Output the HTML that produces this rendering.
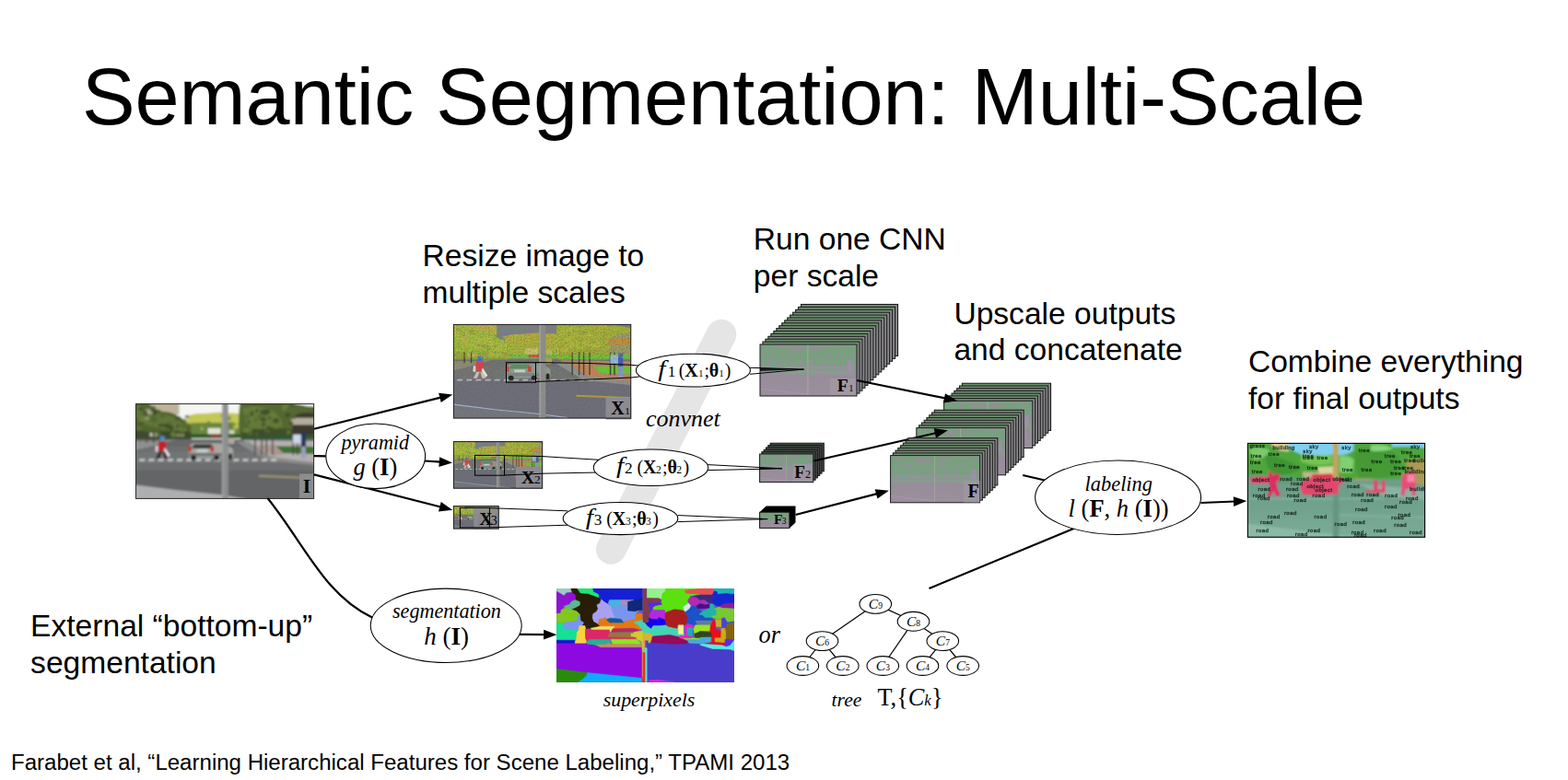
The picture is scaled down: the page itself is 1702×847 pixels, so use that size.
<!DOCTYPE html>
<html lang="en">
<head>
<meta charset="utf-8">
<title>Semantic Segmentation: Multi-Scale</title>
<style>
html,body{margin:0;padding:0;background:#fff;}
body{width:1702px;height:847px;position:relative;overflow:hidden;font-family:"Liberation Sans",sans-serif;color:#000;}
.t{position:absolute;white-space:nowrap;margin:0;font-weight:400;}
h1.t{font-size:86.45px;line-height:100px;left:88.9px;top:55px;}
.l{font-size:33.6px;line-height:40px;}
.f{font-size:24.05px;line-height:28px;left:12px;top:813.5px;}
svg{position:absolute;left:0;top:0;}
svg text{font-family:"Liberation Serif",serif;fill:#000;}
.i{font-style:italic;}
.b{font-weight:700;}
.lab{font-family:"Liberation Sans",sans-serif;font-size:6.1px;letter-spacing:.42px;fill:#0a1e12;stroke:#0a1e12;stroke-width:.32px;opacity:.85;}
</style>
</head>
<body>
<svg width="1702" height="847" viewBox="0 0 1702 847">
<defs>
<filter id="bl" x="-5%" y="-5%" width="110%" height="110%"><feGaussianBlur stdDeviation="0.9"/></filter>
<filter id="bl2" x="-5%" y="-5%" width="110%" height="110%"><feGaussianBlur stdDeviation="0.45"/></filter>
<filter id="nzc" x="0" y="0" width="100%" height="100%" color-interpolation-filters="sRGB"><feTurbulence type="fractalNoise" baseFrequency="0.6" numOctaves="2" seed="11"/><feColorMatrix type="matrix" values="1.5 0 0 0 -0.08  0 1.9 0 0 -0.22  0 0 0.9 0 -0.22  0 0 0 0 1"/><feComposite operator="in" in2="SourceGraphic"/></filter>
<filter id="nzg" x="0" y="0" width="100%" height="100%" color-interpolation-filters="sRGB"><feTurbulence type="fractalNoise" baseFrequency="0.5" numOctaves="2" seed="5"/><feColorMatrix type="matrix" values="0 2.4 0 0 -0.7  0 2.4 0 0 -0.7  0 2.4 0 0 -0.7  0 0 0 0 1"/><feComposite operator="in" in2="SourceGraphic"/></filter>
<filter id="nzf" x="0" y="0" width="100%" height="100%" color-interpolation-filters="sRGB"><feTurbulence type="fractalNoise" baseFrequency="0.5 0.9" numOctaves="2" seed="23"/><feColorMatrix type="matrix" values="2.2 0 0 0 -0.5  -1.6 0 0 0 1.4  2.2 0 0 0 -0.45  0 0 0 0 1"/><feComposite operator="in" in2="SourceGraphic"/></filter>
<clipPath id="c1"><rect x="0" y="0" width="193" height="102"/></clipPath>
<clipPath id="c2"><rect x="0" y="0" width="193" height="102"/></clipPath>
<clipPath id="c3"><rect x="0" y="0" width="193" height="102"/></clipPath>
<clipPath id="c4"><rect x="0" y="0" width="193" height="102"/></clipPath>
<linearGradient id="g5" x1="0" y1="0" x2="0" y2="1"><stop offset="0" stop-color="#6d936f"/><stop offset="0.028" stop-color="#6d936f"/><stop offset="0.046" stop-color="#8b898d"/><stop offset="1" stop-color="#8b898d"/></linearGradient>
<linearGradient id="g6" x1="0" y1="0" x2="0" y2="1"><stop offset="0" stop-color="#7f9a82"/><stop offset="0.1" stop-color="#73a077"/><stop offset="0.40" stop-color="#7a9d80"/><stop offset="0.54" stop-color="#8c9591"/><stop offset="0.62" stop-color="#988c9a"/><stop offset="1" stop-color="#9b8f9d"/></linearGradient>
<linearGradient id="g7" x1="0" y1="0" x2="0" y2="1"><stop offset="0" stop-color="#3e4a40"/><stop offset="0.042" stop-color="#3e4a40"/><stop offset="0.068" stop-color="#4a4a4c"/><stop offset="1" stop-color="#4a4a4c"/></linearGradient>
<linearGradient id="g8" x1="0" y1="0" x2="0" y2="1"><stop offset="0" stop-color="#7f9a82"/><stop offset="0.1" stop-color="#73a077"/><stop offset="0.40" stop-color="#7a9d80"/><stop offset="0.54" stop-color="#8c9591"/><stop offset="0.62" stop-color="#988c9a"/><stop offset="1" stop-color="#9b8f9d"/></linearGradient>
<linearGradient id="g9" x1="0" y1="0" x2="0" y2="1"><stop offset="0" stop-color="#7f9a82"/><stop offset="0.1" stop-color="#73a077"/><stop offset="0.40" stop-color="#7a9d80"/><stop offset="0.54" stop-color="#8c9591"/><stop offset="0.62" stop-color="#988c9a"/><stop offset="1" stop-color="#9b8f9d"/></linearGradient>
<linearGradient id="g10" x1="0" y1="0" x2="0" y2="1"><stop offset="0" stop-color="#6d936f"/><stop offset="0.029" stop-color="#6d936f"/><stop offset="0.047" stop-color="#8b898d"/><stop offset="1" stop-color="#8b898d"/></linearGradient>
<linearGradient id="g11" x1="0" y1="0" x2="0" y2="1"><stop offset="0" stop-color="#7f9a82"/><stop offset="0.1" stop-color="#73a077"/><stop offset="0.40" stop-color="#7a9d80"/><stop offset="0.54" stop-color="#8c9591"/><stop offset="0.62" stop-color="#988c9a"/><stop offset="1" stop-color="#9b8f9d"/></linearGradient>
<linearGradient id="g12" x1="0" y1="0" x2="0" y2="1"><stop offset="0" stop-color="#6d936f"/><stop offset="0.030" stop-color="#6d936f"/><stop offset="0.047" stop-color="#8b898d"/><stop offset="1" stop-color="#8b898d"/></linearGradient>
<linearGradient id="g13" x1="0" y1="0" x2="0" y2="1"><stop offset="0" stop-color="#7f9a82"/><stop offset="0.1" stop-color="#73a077"/><stop offset="0.40" stop-color="#7a9d80"/><stop offset="0.54" stop-color="#8c9591"/><stop offset="0.62" stop-color="#988c9a"/><stop offset="1" stop-color="#9b8f9d"/></linearGradient>
<linearGradient id="g14" x1="0" y1="0" x2="0" y2="1"><stop offset="0" stop-color="#6d936f"/><stop offset="0.029" stop-color="#6d936f"/><stop offset="0.046" stop-color="#8b898d"/><stop offset="1" stop-color="#8b898d"/></linearGradient>
<linearGradient id="g15" x1="0" y1="0" x2="0" y2="1"><stop offset="0" stop-color="#7f9a82"/><stop offset="0.1" stop-color="#73a077"/><stop offset="0.40" stop-color="#7a9d80"/><stop offset="0.54" stop-color="#8c9591"/><stop offset="0.62" stop-color="#988c9a"/><stop offset="1" stop-color="#9b8f9d"/></linearGradient>
<clipPath id="c16"><rect x="0" y="0" width="193" height="102"/></clipPath>
<linearGradient id="ogr" x1="0" y1="0" x2="0" y2="1"><stop offset="0.36" stop-color="#6c9d88"/><stop offset="0.6" stop-color="#6fa08b"/><stop offset="1" stop-color="#7cad98"/></linearGradient>
<clipPath id="c17"><rect x="0" y="0" width="193" height="102"/></clipPath>
</defs>
<line x1="783" y1="363.2" x2="663.2" y2="596.6" stroke="#e5e5e5" stroke-width="32.6" stroke-linecap="round"/>
<g transform="translate(147.5,438.6) scale(1.0005,1.0078)" clip-path="url(#c1)">
<g filter="url(#bl)">
<rect x="-4" y="-4" width="201" height="110" fill="#6c6e70"/>
<rect x="-4" y="36" width="201" height="10" fill="#66686a"/>
<rect x="-4" y="52" width="201" height="12" fill="#747678" opacity="0.8"/>
<rect x="-4" y="72" width="201" height="34" fill="#5f6163" opacity="0.7"/>
<rect x="-4" y="-4" width="201" height="42" fill="#f5f5f2"/>
<polygon points="10,-2 47,-2 47,11 40,13 28,8 10,7" fill="#bdb39b"/>
<rect x="148" y="3" width="50" height="34" fill="#3c382e"/>
<rect x="150" y="15" width="48" height="7.5" fill="#b4ad9c"/>
<path d="M56,13 Q66,9 76,11 Q88,8 100,10 Q108,9 116,12 L116,36 L56,37 Z" fill="#c3c755"/>
<path d="M56,21 Q80,19 116,22 L116,37 L56,37 Z" fill="#6a8540"/>
<rect x="78" y="26" width="14" height="7" fill="#e4e2dc"/>
<rect x="101" y="28" width="6" height="5" fill="#e4e2dc" opacity="0.8"/>
<rect x="58" y="32.5" width="60" height="4" fill="#2f5a2a"/>
<rect x="82" y="33" width="11" height="2.6" fill="#a83038"/>
<path d="M-3,-3 L12,-3 Q18,5 28,8 Q40,8 47,14 Q56,18 60,26 L60,38 L-3,38 Z" fill="#52652f"/>
<path d="M0,4 Q10,0 18,8 Q30,12 40,14 Q52,20 54,27 Q40,30 26,26 Q8,24 0,14 Z" fill="#6a7e3e" opacity="0.7"/>
<path d="M-3,29 L60,30 L60,38 L-3,38 Z" fill="#3a4628" opacity="0.85"/>
<rect x="10" y="6" width="9" height="5" fill="#bdb39b" opacity="0.8"/>
<rect x="6" y="14" width="8" height="3" fill="#bdb39b" opacity="0.6"/>
<rect x="15" y="31" width="8" height="4" fill="#e4e2dc" opacity="0.8"/>
<rect x="40" y="32" width="12" height="3" fill="#e4e2dc" opacity="0.7"/>
<path d="M113,-3 L150,-3 Q170,-1 193,4 L193,10 Q176,8 168,16 Q172,28 168,38 L114,38 Q110,20 113,-3 Z" fill="#536730"/>
<path d="M116,4 Q130,0 146,6 Q158,12 160,24 Q144,30 126,27 Q116,20 116,4 Z" fill="#6b813c" opacity="0.7"/>
<path d="M114,27 L170,27 L168,38 L114,38 Z" fill="#3c4a2a" opacity="0.8"/>
<rect x="118" y="33" width="78" height="5" fill="#2f5a2a"/>
<ellipse cx="18.8" cy="6.8" rx="3.3" ry="1.5" fill="#3a4628" opacity="0.75"/>
<ellipse cx="5.5" cy="20.6" rx="4.0" ry="1.8" fill="#52652f" opacity="0.75"/>
<ellipse cx="5.3" cy="15.6" rx="3.7" ry="1.6" fill="#52652f" opacity="0.75"/>
<ellipse cx="36.6" cy="20.7" rx="1.8" ry="2.5" fill="#52652f" opacity="0.75"/>
<ellipse cx="8.4" cy="5.8" rx="2.4" ry="2.9" fill="#52652f" opacity="0.75"/>
<ellipse cx="6.0" cy="20.3" rx="2.1" ry="1.6" fill="#3a4628" opacity="0.75"/>
<ellipse cx="3.6" cy="3.9" rx="2.1" ry="2.6" fill="#6a7e3e" opacity="0.75"/>
<ellipse cx="45.1" cy="16.9" rx="4.0" ry="2.1" fill="#52652f" opacity="0.75"/>
<ellipse cx="46.1" cy="24.4" rx="2.2" ry="2.4" fill="#3a4628" opacity="0.75"/>
<ellipse cx="28.7" cy="13.0" rx="2.8" ry="2.5" fill="#52652f" opacity="0.75"/>
<ellipse cx="6.8" cy="15.4" rx="3.6" ry="1.7" fill="#6a7e3e" opacity="0.75"/>
<ellipse cx="24.5" cy="32.8" rx="1.8" ry="2.4" fill="#6a7e3e" opacity="0.75"/>
<ellipse cx="19.7" cy="13.2" rx="2.9" ry="2.8" fill="#52652f" opacity="0.75"/>
<ellipse cx="48.7" cy="32.2" rx="2.8" ry="2.6" fill="#52652f" opacity="0.75"/>
<ellipse cx="33.5" cy="23.8" rx="2.8" ry="2.7" fill="#3a4628" opacity="0.75"/>
<ellipse cx="20.1" cy="32.1" rx="2.5" ry="2.5" fill="#6a7e3e" opacity="0.75"/>
<ellipse cx="3.4" cy="26.6" rx="1.9" ry="1.8" fill="#6a7e3e" opacity="0.75"/>
<ellipse cx="53.2" cy="17.9" rx="2.0" ry="2.1" fill="#6a7e3e" opacity="0.75"/>
<ellipse cx="51.2" cy="28.2" rx="3.8" ry="1.9" fill="#6a7e3e" opacity="0.75"/>
<ellipse cx="57.2" cy="23.8" rx="2.6" ry="1.8" fill="#52652f" opacity="0.75"/>
<ellipse cx="10.2" cy="9.4" rx="2.2" ry="2.3" fill="#3a4628" opacity="0.75"/>
<ellipse cx="10.6" cy="11.0" rx="2.0" ry="2.4" fill="#3a4628" opacity="0.75"/>
<ellipse cx="32.8" cy="32.5" rx="3.4" ry="2.3" fill="#3a4628" opacity="0.75"/>
<ellipse cx="38.0" cy="25.7" rx="2.8" ry="3.0" fill="#3a4628" opacity="0.75"/>
<ellipse cx="46.3" cy="14.6" rx="2.6" ry="1.6" fill="#3a4628" opacity="0.75"/>
<ellipse cx="23.2" cy="8.1" rx="4.2" ry="2.2" fill="#52652f" opacity="0.75"/>
<ellipse cx="19.7" cy="3.7" rx="1.6" ry="1.7" fill="#52652f" opacity="0.75"/>
<ellipse cx="55.0" cy="21.6" rx="1.8" ry="1.8" fill="#6a7e3e" opacity="0.75"/>
<ellipse cx="8.6" cy="10.1" rx="2.5" ry="2.1" fill="#52652f" opacity="0.75"/>
<ellipse cx="6.7" cy="17.6" rx="4.1" ry="2.3" fill="#6a7e3e" opacity="0.75"/>
<ellipse cx="5.0" cy="5.3" rx="2.5" ry="1.9" fill="#3a4628" opacity="0.75"/>
<ellipse cx="9.4" cy="2.7" rx="4.1" ry="2.4" fill="#52652f" opacity="0.75"/>
<ellipse cx="40.0" cy="31.3" rx="3.6" ry="1.9" fill="#3a4628" opacity="0.75"/>
<ellipse cx="50.1" cy="24.3" rx="2.3" ry="2.1" fill="#52652f" opacity="0.75"/>
<ellipse cx="20.6" cy="9.1" rx="3.0" ry="2.3" fill="#3a4628" opacity="0.75"/>
<ellipse cx="12.9" cy="28.0" rx="4.2" ry="2.9" fill="#52652f" opacity="0.75"/>
<ellipse cx="47.5" cy="25.7" rx="2.2" ry="2.3" fill="#6a7e3e" opacity="0.75"/>
<ellipse cx="42.4" cy="33.7" rx="3.7" ry="2.3" fill="#52652f" opacity="0.75"/>
<ellipse cx="40.2" cy="32.6" rx="2.8" ry="3.1" fill="#6a7e3e" opacity="0.75"/>
<ellipse cx="55.4" cy="13.7" rx="2.2" ry="1.8" fill="#52652f" opacity="0.75"/>
<ellipse cx="19.6" cy="17.4" rx="4.2" ry="2.5" fill="#52652f" opacity="0.75"/>
<ellipse cx="27.8" cy="22.9" rx="3.7" ry="1.6" fill="#3a4628" opacity="0.75"/>
<ellipse cx="120.7" cy="13.2" rx="3.4" ry="1.8" fill="#536730" opacity="0.75"/>
<ellipse cx="138.3" cy="21.6" rx="1.8" ry="3.1" fill="#3c4a2a" opacity="0.75"/>
<ellipse cx="136.2" cy="13.6" rx="4.1" ry="2.7" fill="#536730" opacity="0.75"/>
<ellipse cx="169.6" cy="0.9" rx="3.1" ry="2.2" fill="#3c4a2a" opacity="0.75"/>
<ellipse cx="122.2" cy="28.1" rx="4.1" ry="2.6" fill="#6b813c" opacity="0.75"/>
<ellipse cx="122.7" cy="18.6" rx="1.7" ry="2.8" fill="#3c4a2a" opacity="0.75"/>
<ellipse cx="150.4" cy="17.9" rx="4.0" ry="2.2" fill="#536730" opacity="0.75"/>
<ellipse cx="160.3" cy="7.2" rx="2.3" ry="1.9" fill="#536730" opacity="0.75"/>
<ellipse cx="156.8" cy="11.1" rx="3.0" ry="2.9" fill="#536730" opacity="0.75"/>
<ellipse cx="165.0" cy="12.0" rx="2.8" ry="2.5" fill="#3c4a2a" opacity="0.75"/>
<ellipse cx="137.6" cy="31.2" rx="2.9" ry="2.4" fill="#3c4a2a" opacity="0.75"/>
<ellipse cx="142.6" cy="29.7" rx="3.6" ry="2.5" fill="#536730" opacity="0.75"/>
<ellipse cx="123.7" cy="16.1" rx="3.5" ry="2.4" fill="#6b813c" opacity="0.75"/>
<ellipse cx="152.2" cy="18.0" rx="2.9" ry="2.8" fill="#3c4a2a" opacity="0.75"/>
<ellipse cx="117.2" cy="6.5" rx="1.7" ry="1.6" fill="#6b813c" opacity="0.75"/>
<ellipse cx="145.5" cy="25.8" rx="4.0" ry="2.2" fill="#3c4a2a" opacity="0.75"/>
<ellipse cx="168.5" cy="20.6" rx="2.1" ry="1.9" fill="#3c4a2a" opacity="0.75"/>
<ellipse cx="143.9" cy="16.3" rx="4.0" ry="2.7" fill="#6b813c" opacity="0.75"/>
<ellipse cx="165.7" cy="30.4" rx="2.1" ry="2.2" fill="#6b813c" opacity="0.75"/>
<ellipse cx="120.8" cy="15.0" rx="1.8" ry="1.8" fill="#536730" opacity="0.75"/>
<ellipse cx="125.9" cy="10.3" rx="1.9" ry="2.8" fill="#3c4a2a" opacity="0.75"/>
<ellipse cx="150.0" cy="12.5" rx="2.3" ry="1.6" fill="#6b813c" opacity="0.75"/>
<ellipse cx="126.3" cy="32.4" rx="2.6" ry="2.3" fill="#3c4a2a" opacity="0.75"/>
<ellipse cx="160.6" cy="5.5" rx="2.7" ry="2.3" fill="#6b813c" opacity="0.75"/>
<ellipse cx="137.6" cy="12.1" rx="1.8" ry="2.1" fill="#6b813c" opacity="0.75"/>
<ellipse cx="145.0" cy="15.0" rx="1.6" ry="2.0" fill="#3c4a2a" opacity="0.75"/>
<ellipse cx="130.5" cy="32.7" rx="1.9" ry="3.1" fill="#536730" opacity="0.75"/>
<ellipse cx="168.4" cy="3.6" rx="2.3" ry="1.5" fill="#536730" opacity="0.75"/>
<ellipse cx="129.1" cy="4.4" rx="2.7" ry="3.0" fill="#6b813c" opacity="0.75"/>
<ellipse cx="136.7" cy="18.2" rx="2.9" ry="2.3" fill="#6b813c" opacity="0.75"/>
<ellipse cx="119.0" cy="2.0" rx="3.4" ry="2.2" fill="#536730" opacity="0.75"/>
<ellipse cx="129.1" cy="0.6" rx="1.8" ry="1.9" fill="#3c4a2a" opacity="0.75"/>
<ellipse cx="161.9" cy="2.3" rx="3.8" ry="2.2" fill="#6b813c" opacity="0.75"/>
<ellipse cx="169.7" cy="14.2" rx="4.0" ry="2.5" fill="#536730" opacity="0.75"/>
<ellipse cx="143.5" cy="8.1" rx="1.9" ry="1.7" fill="#536730" opacity="0.75"/>
<ellipse cx="124.1" cy="31.7" rx="3.2" ry="2.4" fill="#536730" opacity="0.75"/>
<ellipse cx="130.2" cy="17.0" rx="2.1" ry="2.0" fill="#536730" opacity="0.75"/>
<ellipse cx="169.7" cy="1.3" rx="1.6" ry="2.3" fill="#536730" opacity="0.75"/>
<ellipse cx="142.8" cy="8.4" rx="2.8" ry="2.6" fill="#3c4a2a" opacity="0.75"/>
<ellipse cx="138.2" cy="16.8" rx="3.8" ry="2.1" fill="#3c4a2a" opacity="0.75"/>
<ellipse cx="131.2" cy="7.3" rx="2.2" ry="1.8" fill="#3c4a2a" opacity="0.75"/>
<ellipse cx="154.8" cy="4.8" rx="4.2" ry="3.2" fill="#536730" opacity="0.75"/>
<ellipse cx="114.8" cy="21.3" rx="3.9" ry="2.2" fill="#536730" opacity="0.75"/>
<ellipse cx="118.7" cy="28.6" rx="3.9" ry="2.6" fill="#6b813c" opacity="0.75"/>
<ellipse cx="147.5" cy="23.6" rx="1.7" ry="1.7" fill="#6b813c" opacity="0.75"/>
<ellipse cx="139.0" cy="9.0" rx="4.1" ry="3.2" fill="#3c4a2a" opacity="0.75"/>
<ellipse cx="76.1" cy="11.7" rx="3.9" ry="1.8" fill="#c3c755" opacity="0.75"/>
<ellipse cx="58.1" cy="18.3" rx="2.8" ry="2.3" fill="#c3c755" opacity="0.75"/>
<ellipse cx="71.9" cy="25.7" rx="1.8" ry="2.9" fill="#c3c755" opacity="0.75"/>
<ellipse cx="80.4" cy="11.8" rx="1.7" ry="1.9" fill="#c3c755" opacity="0.75"/>
<ellipse cx="62.7" cy="29.2" rx="3.8" ry="1.7" fill="#6a8540" opacity="0.75"/>
<ellipse cx="101.9" cy="22.3" rx="3.6" ry="2.7" fill="#6a8540" opacity="0.75"/>
<ellipse cx="66.4" cy="24.8" rx="3.3" ry="1.5" fill="#6a8540" opacity="0.75"/>
<ellipse cx="107.9" cy="22.9" rx="3.5" ry="2.9" fill="#c3c755" opacity="0.75"/>
<ellipse cx="109.0" cy="25.3" rx="3.1" ry="2.9" fill="#c3c755" opacity="0.75"/>
<ellipse cx="104.3" cy="22.1" rx="3.9" ry="2.6" fill="#6a8540" opacity="0.75"/>
<ellipse cx="94.0" cy="12.6" rx="1.7" ry="2.5" fill="#c3c755" opacity="0.75"/>
<ellipse cx="79.1" cy="19.6" rx="1.7" ry="1.4" fill="#6a8540" opacity="0.75"/>
<ellipse cx="96.1" cy="20.3" rx="1.6" ry="2.8" fill="#6a8540" opacity="0.75"/>
<ellipse cx="110.2" cy="28.1" rx="1.8" ry="2.3" fill="#6a8540" opacity="0.75"/>
<ellipse cx="99.3" cy="15.8" rx="1.8" ry="1.9" fill="#6a8540" opacity="0.75"/>
<ellipse cx="100.4" cy="15.4" rx="3.3" ry="2.2" fill="#6a8540" opacity="0.75"/>
<ellipse cx="62.3" cy="28.3" rx="2.3" ry="1.5" fill="#6a8540" opacity="0.75"/>
<ellipse cx="94.0" cy="12.5" rx="2.0" ry="1.9" fill="#6a8540" opacity="0.75"/>
<ellipse cx="96.8" cy="22.8" rx="1.9" ry="2.3" fill="#6a8540" opacity="0.75"/>
<ellipse cx="73.1" cy="23.8" rx="3.4" ry="2.6" fill="#6a8540" opacity="0.75"/>
<ellipse cx="97.7" cy="16.4" rx="2.8" ry="2.8" fill="#6a8540" opacity="0.75"/>
<ellipse cx="69.2" cy="29.6" rx="4.0" ry="1.4" fill="#6a8540" opacity="0.75"/>
<polygon points="116,39 197,40 197,64 150,59" fill="#b2b0b0"/>
<polygon points="124,45 150,44 170,52 150,56" fill="#a89088" opacity="0.8"/>
<polygon points="152,45.5 197,46 197,54 160,53" fill="#3f7034"/>
<polygon points="108,40.5 122,40.5 146,57 197,63.5 197,66.5 142,60.5" fill="#8c8c8a"/>
<polygon points="-4,40 22,40 44,38 16,46 -4,51" fill="#8e9090"/>
<rect x="128.5" y="30" width="1.4" height="25" fill="#4a443a"/>
<rect x="136" y="30" width="1.4" height="25" fill="#4a443a"/>
<rect x="141" y="30" width="1.4" height="25" fill="#4a443a"/>
<rect x="147.5" y="30" width="1.4" height="25" fill="#4a443a"/>
<rect x="170" y="30" width="1.4" height="25" fill="#4a443a"/>
<rect x="174.5" y="30" width="1.4" height="25" fill="#4a443a"/>
<rect x="11" y="30" width="1.4" height="12" fill="#4a443a"/>
<rect x="18.5" y="30" width="1.4" height="12" fill="#4a443a"/>
<rect x="170.5" y="33" width="9" height="9.5" fill="#ccd6e8"/>
<rect x="179.2" y="31" width="5.3" height="15" fill="#2c3560"/>
<rect x="179.6" y="46" width="4.6" height="13" fill="#9aa0b8"/>
<polygon points="3.0,61.4 9.2,61.4 10.2,59.4 4.5,59.4" fill="#dcdcdc"/>
<polygon points="13.2,61.4 19.4,61.4 20.4,59.4 14.7,59.4" fill="#dcdcdc"/>
<polygon points="23.4,61.4 29.6,61.4 30.6,59.4 24.9,59.4" fill="#dcdcdc"/>
<polygon points="33.6,61.4 39.8,61.4 40.8,59.4 35.1,59.4" fill="#dcdcdc"/>
<polygon points="43.8,61.4 50.0,61.4 51.0,59.4 45.3,59.4" fill="#dcdcdc"/>
<polygon points="54.0,61.4 60.2,61.4 61.2,59.4 55.5,59.4" fill="#dcdcdc"/>
<polygon points="64.2,61.4 70.4,61.4 71.4,59.4 65.7,59.4" fill="#dcdcdc"/>
<polygon points="74.4,61.4 80.6,61.4 81.6,59.4 75.9,59.4" fill="#dcdcdc"/>
<polygon points="84.6,61.4 90.8,61.4 91.8,59.4 86.1,59.4" fill="#dcdcdc"/>
<polygon points="105.0,61.4 111.2,61.4 112.2,59.4 106.5,59.4" fill="#dcdcdc"/>
<polygon points="115.2,61.4 121.4,61.4 122.4,59.4 116.7,59.4" fill="#dcdcdc"/>
<polygon points="125.4,61.4 131.6,61.4 132.6,59.4 126.9,59.4" fill="#dcdcdc"/>
<polygon points="135.6,61.4 141.8,61.4 142.8,59.4 137.1,59.4" fill="#dcdcdc"/>
<polygon points="145.8,61.4 152.0,61.4 153.0,59.4 147.3,59.4" fill="#dcdcdc"/>
<polygon points="133.5,76.6 197,79.2 197,81 133.5,78.6" fill="#a39c72"/>
<polygon points="-3,87 45,93 93,97.8 124,103 -3,104" fill="#adafb1"/>
<rect x="100" y="36.5" width="7" height="6.5" rx="1.5" fill="#b0a89c"/>
<path d="M57,50 Q57.5,43.5 62,42.4 L90,42.4 Q100,43.5 105.5,49 L105.5,58 L58,58.6 Z" fill="#a6a8a2"/>
<polygon points="60.5,48 63,43.6 82,43.6 84,48" fill="#333a34"/>
<rect x="58" y="53" width="38" height="3.4" fill="#6e7472"/>
<rect x="56.8" y="45.5" width="3.6" height="6" fill="#c83232"/>
<rect x="81" y="45.5" width="3.6" height="6" fill="#c83232"/>
<rect x="66" y="49" width="12" height="3" fill="#c8ccd0"/>
<ellipse cx="62.5" cy="58" rx="3" ry="2.6" fill="#1c1c1c"/>
<ellipse cx="87.5" cy="58" rx="3" ry="2.6" fill="#1c1c1c"/>
<ellipse cx="102.5" cy="56.5" rx="2" ry="3.2" fill="#1c1c1c"/>
<rect x="26.3" y="34.6" width="5" height="5" rx="1" fill="#3f8fd8"/>
<path d="M24.5,40 L32.5,40 L33.5,51.5 L24,51.5 Z" fill="#c4202c"/>
<polygon points="25,51.5 28.5,51.5 25.5,58.6 21.5,58.6" fill="#2a2a30"/>
<polygon points="29,51.5 32.5,51.5 35,58.6 31,58.6" fill="#2a2a30"/>
<polygon points="31.5,47 37,55.5 35,57.5 30.5,50" fill="#e8e8ec"/>
<polygon points="21.5,45 24,45 24,52 21,51" fill="#d8d8dc"/>
<rect x="93.4" y="-3" width="6.8" height="108" fill="#8d8f8f"/>
<rect x="93.4" y="-3" width="1.5" height="108" fill="#b0b2b2" opacity="0.6"/>
</g>
</g>
<rect x="325" y="514.5" width="16" height="26.5" fill="#8d8d8d"/>
<rect x="147.5" y="438.6" width="193.1" height="102.8" fill="none" stroke="#2a2a2a" stroke-width="1.0"/>
<text x="328.7" y="535" font-size="21.5" class="b" text-anchor="start">I</text>
<g transform="translate(492.4,352.4) scale(0.9966,0.9971)" clip-path="url(#c2)">
<g filter="url(#bl2)">
<rect x="-4" y="-4" width="201" height="110" fill="#6c6d76"/>
<rect x="-4" y="36" width="201" height="10" fill="#696a73"/>
<rect x="-4" y="-4" width="201" height="42" fill="#7b7b7e"/>
<rect x="48" y="6.5" width="30" height="1.2" fill="#4a9a7a" opacity="0.8"/>
<rect x="52" y="9.5" width="36" height="1.2" fill="#6a7ab0" opacity="0.8"/>
<polygon points="10,-2 47,-2 47,11 40,13 28,8 10,7" fill="#b0a050"/>
<rect x="148" y="3" width="50" height="34" fill="#8c8a72"/>
<rect x="150" y="15" width="48" height="7.5" fill="#b87c42"/>
<path d="M56,13 Q66,9 76,11 Q88,8 100,10 Q108,9 116,12 L116,36 L56,37 Z" fill="#a9a23e"/>
<path d="M56,21 Q80,19 116,22 L116,37 L56,37 Z" fill="#9aa640"/>
<rect x="78" y="26" width="14" height="7" fill="#c8b478"/>
<rect x="101" y="28" width="6" height="5" fill="#c8b478" opacity="0.8"/>
<rect x="58" y="32.5" width="60" height="4" fill="#58b840"/>
<rect x="82" y="33" width="11" height="2.6" fill="#c83048"/>
<path d="M-3,-3 L12,-3 Q18,5 28,8 Q40,8 47,14 Q56,18 60,26 L60,38 L-3,38 Z" fill="#8fb03f"/>
<path d="M0,4 Q10,0 18,8 Q30,12 40,14 Q52,20 54,27 Q40,30 26,26 Q8,24 0,14 Z" fill="#a9b246" opacity="0.7"/>
<path d="M-3,29 L60,30 L60,38 L-3,38 Z" fill="#8a9440" opacity="0.85"/>
<rect x="10" y="6" width="9" height="5" fill="#b0a050" opacity="0.8"/>
<rect x="6" y="14" width="8" height="3" fill="#b0a050" opacity="0.6"/>
<rect x="15" y="31" width="8" height="4" fill="#c8b478" opacity="0.8"/>
<rect x="40" y="32" width="12" height="3" fill="#c8b478" opacity="0.7"/>
<path d="M113,-3 L150,-3 Q170,-1 193,4 L193,10 Q176,8 168,16 Q172,28 168,38 L114,38 Q110,20 113,-3 Z" fill="#98a43a"/>
<path d="M116,4 Q130,0 146,6 Q158,12 160,24 Q144,30 126,27 Q116,20 116,4 Z" fill="#a6ac40" opacity="0.7"/>
<path d="M114,27 L170,27 L168,38 L114,38 Z" fill="#8e963c" opacity="0.8"/>
<rect x="118" y="33" width="78" height="5" fill="#58b840"/>
<ellipse cx="18.8" cy="6.8" rx="3.3" ry="1.5" fill="#8a9440" opacity="0.75"/>
<ellipse cx="5.5" cy="20.6" rx="4.0" ry="1.8" fill="#8fb03f" opacity="0.75"/>
<ellipse cx="5.3" cy="15.6" rx="3.7" ry="1.6" fill="#8fb03f" opacity="0.75"/>
<ellipse cx="36.6" cy="20.7" rx="1.8" ry="2.5" fill="#8fb03f" opacity="0.75"/>
<ellipse cx="8.4" cy="5.8" rx="2.4" ry="2.9" fill="#8fb03f" opacity="0.75"/>
<ellipse cx="6.0" cy="20.3" rx="2.1" ry="1.6" fill="#8a9440" opacity="0.75"/>
<ellipse cx="3.6" cy="3.9" rx="2.1" ry="2.6" fill="#a9b246" opacity="0.75"/>
<ellipse cx="45.1" cy="16.9" rx="4.0" ry="2.1" fill="#8fb03f" opacity="0.75"/>
<ellipse cx="46.1" cy="24.4" rx="2.2" ry="2.4" fill="#8a9440" opacity="0.75"/>
<ellipse cx="28.7" cy="13.0" rx="2.8" ry="2.5" fill="#8fb03f" opacity="0.75"/>
<ellipse cx="6.8" cy="15.4" rx="3.6" ry="1.7" fill="#a9b246" opacity="0.75"/>
<ellipse cx="24.5" cy="32.8" rx="1.8" ry="2.4" fill="#a9b246" opacity="0.75"/>
<ellipse cx="19.7" cy="13.2" rx="2.9" ry="2.8" fill="#8fb03f" opacity="0.75"/>
<ellipse cx="48.7" cy="32.2" rx="2.8" ry="2.6" fill="#8fb03f" opacity="0.75"/>
<ellipse cx="33.5" cy="23.8" rx="2.8" ry="2.7" fill="#8a9440" opacity="0.75"/>
<ellipse cx="20.1" cy="32.1" rx="2.5" ry="2.5" fill="#a9b246" opacity="0.75"/>
<ellipse cx="3.4" cy="26.6" rx="1.9" ry="1.8" fill="#a9b246" opacity="0.75"/>
<ellipse cx="53.2" cy="17.9" rx="2.0" ry="2.1" fill="#a9b246" opacity="0.75"/>
<ellipse cx="51.2" cy="28.2" rx="3.8" ry="1.9" fill="#a9b246" opacity="0.75"/>
<ellipse cx="57.2" cy="23.8" rx="2.6" ry="1.8" fill="#8fb03f" opacity="0.75"/>
<ellipse cx="10.2" cy="9.4" rx="2.2" ry="2.3" fill="#8a9440" opacity="0.75"/>
<ellipse cx="10.6" cy="11.0" rx="2.0" ry="2.4" fill="#8a9440" opacity="0.75"/>
<ellipse cx="32.8" cy="32.5" rx="3.4" ry="2.3" fill="#8a9440" opacity="0.75"/>
<ellipse cx="38.0" cy="25.7" rx="2.8" ry="3.0" fill="#8a9440" opacity="0.75"/>
<ellipse cx="46.3" cy="14.6" rx="2.6" ry="1.6" fill="#8a9440" opacity="0.75"/>
<ellipse cx="23.2" cy="8.1" rx="4.2" ry="2.2" fill="#8fb03f" opacity="0.75"/>
<ellipse cx="19.7" cy="3.7" rx="1.6" ry="1.7" fill="#8fb03f" opacity="0.75"/>
<ellipse cx="55.0" cy="21.6" rx="1.8" ry="1.8" fill="#a9b246" opacity="0.75"/>
<ellipse cx="8.6" cy="10.1" rx="2.5" ry="2.1" fill="#8fb03f" opacity="0.75"/>
<ellipse cx="6.7" cy="17.6" rx="4.1" ry="2.3" fill="#a9b246" opacity="0.75"/>
<ellipse cx="5.0" cy="5.3" rx="2.5" ry="1.9" fill="#8a9440" opacity="0.75"/>
<ellipse cx="9.4" cy="2.7" rx="4.1" ry="2.4" fill="#8fb03f" opacity="0.75"/>
<ellipse cx="40.0" cy="31.3" rx="3.6" ry="1.9" fill="#8a9440" opacity="0.75"/>
<ellipse cx="50.1" cy="24.3" rx="2.3" ry="2.1" fill="#8fb03f" opacity="0.75"/>
<ellipse cx="20.6" cy="9.1" rx="3.0" ry="2.3" fill="#8a9440" opacity="0.75"/>
<ellipse cx="12.9" cy="28.0" rx="4.2" ry="2.9" fill="#8fb03f" opacity="0.75"/>
<ellipse cx="47.5" cy="25.7" rx="2.2" ry="2.3" fill="#a9b246" opacity="0.75"/>
<ellipse cx="42.4" cy="33.7" rx="3.7" ry="2.3" fill="#8fb03f" opacity="0.75"/>
<ellipse cx="40.2" cy="32.6" rx="2.8" ry="3.1" fill="#a9b246" opacity="0.75"/>
<ellipse cx="55.4" cy="13.7" rx="2.2" ry="1.8" fill="#8fb03f" opacity="0.75"/>
<ellipse cx="19.6" cy="17.4" rx="4.2" ry="2.5" fill="#8fb03f" opacity="0.75"/>
<ellipse cx="27.8" cy="22.9" rx="3.7" ry="1.6" fill="#8a9440" opacity="0.75"/>
<ellipse cx="120.7" cy="13.2" rx="3.4" ry="1.8" fill="#98a43a" opacity="0.75"/>
<ellipse cx="138.3" cy="21.6" rx="1.8" ry="3.1" fill="#8e963c" opacity="0.75"/>
<ellipse cx="136.2" cy="13.6" rx="4.1" ry="2.7" fill="#98a43a" opacity="0.75"/>
<ellipse cx="169.6" cy="0.9" rx="3.1" ry="2.2" fill="#8e963c" opacity="0.75"/>
<ellipse cx="122.2" cy="28.1" rx="4.1" ry="2.6" fill="#a6ac40" opacity="0.75"/>
<ellipse cx="122.7" cy="18.6" rx="1.7" ry="2.8" fill="#8e963c" opacity="0.75"/>
<ellipse cx="150.4" cy="17.9" rx="4.0" ry="2.2" fill="#98a43a" opacity="0.75"/>
<ellipse cx="160.3" cy="7.2" rx="2.3" ry="1.9" fill="#98a43a" opacity="0.75"/>
<ellipse cx="156.8" cy="11.1" rx="3.0" ry="2.9" fill="#98a43a" opacity="0.75"/>
<ellipse cx="165.0" cy="12.0" rx="2.8" ry="2.5" fill="#8e963c" opacity="0.75"/>
<ellipse cx="137.6" cy="31.2" rx="2.9" ry="2.4" fill="#8e963c" opacity="0.75"/>
<ellipse cx="142.6" cy="29.7" rx="3.6" ry="2.5" fill="#98a43a" opacity="0.75"/>
<ellipse cx="123.7" cy="16.1" rx="3.5" ry="2.4" fill="#a6ac40" opacity="0.75"/>
<ellipse cx="152.2" cy="18.0" rx="2.9" ry="2.8" fill="#8e963c" opacity="0.75"/>
<ellipse cx="117.2" cy="6.5" rx="1.7" ry="1.6" fill="#a6ac40" opacity="0.75"/>
<ellipse cx="145.5" cy="25.8" rx="4.0" ry="2.2" fill="#8e963c" opacity="0.75"/>
<ellipse cx="168.5" cy="20.6" rx="2.1" ry="1.9" fill="#8e963c" opacity="0.75"/>
<ellipse cx="143.9" cy="16.3" rx="4.0" ry="2.7" fill="#a6ac40" opacity="0.75"/>
<ellipse cx="165.7" cy="30.4" rx="2.1" ry="2.2" fill="#a6ac40" opacity="0.75"/>
<ellipse cx="120.8" cy="15.0" rx="1.8" ry="1.8" fill="#98a43a" opacity="0.75"/>
<ellipse cx="125.9" cy="10.3" rx="1.9" ry="2.8" fill="#8e963c" opacity="0.75"/>
<ellipse cx="150.0" cy="12.5" rx="2.3" ry="1.6" fill="#a6ac40" opacity="0.75"/>
<ellipse cx="126.3" cy="32.4" rx="2.6" ry="2.3" fill="#8e963c" opacity="0.75"/>
<ellipse cx="160.6" cy="5.5" rx="2.7" ry="2.3" fill="#a6ac40" opacity="0.75"/>
<ellipse cx="137.6" cy="12.1" rx="1.8" ry="2.1" fill="#a6ac40" opacity="0.75"/>
<ellipse cx="145.0" cy="15.0" rx="1.6" ry="2.0" fill="#8e963c" opacity="0.75"/>
<ellipse cx="130.5" cy="32.7" rx="1.9" ry="3.1" fill="#98a43a" opacity="0.75"/>
<ellipse cx="168.4" cy="3.6" rx="2.3" ry="1.5" fill="#98a43a" opacity="0.75"/>
<ellipse cx="129.1" cy="4.4" rx="2.7" ry="3.0" fill="#a6ac40" opacity="0.75"/>
<ellipse cx="136.7" cy="18.2" rx="2.9" ry="2.3" fill="#a6ac40" opacity="0.75"/>
<ellipse cx="119.0" cy="2.0" rx="3.4" ry="2.2" fill="#98a43a" opacity="0.75"/>
<ellipse cx="129.1" cy="0.6" rx="1.8" ry="1.9" fill="#8e963c" opacity="0.75"/>
<ellipse cx="161.9" cy="2.3" rx="3.8" ry="2.2" fill="#a6ac40" opacity="0.75"/>
<ellipse cx="169.7" cy="14.2" rx="4.0" ry="2.5" fill="#98a43a" opacity="0.75"/>
<ellipse cx="143.5" cy="8.1" rx="1.9" ry="1.7" fill="#98a43a" opacity="0.75"/>
<ellipse cx="124.1" cy="31.7" rx="3.2" ry="2.4" fill="#98a43a" opacity="0.75"/>
<ellipse cx="130.2" cy="17.0" rx="2.1" ry="2.0" fill="#98a43a" opacity="0.75"/>
<ellipse cx="169.7" cy="1.3" rx="1.6" ry="2.3" fill="#98a43a" opacity="0.75"/>
<ellipse cx="142.8" cy="8.4" rx="2.8" ry="2.6" fill="#8e963c" opacity="0.75"/>
<ellipse cx="138.2" cy="16.8" rx="3.8" ry="2.1" fill="#8e963c" opacity="0.75"/>
<ellipse cx="131.2" cy="7.3" rx="2.2" ry="1.8" fill="#8e963c" opacity="0.75"/>
<ellipse cx="154.8" cy="4.8" rx="4.2" ry="3.2" fill="#98a43a" opacity="0.75"/>
<ellipse cx="114.8" cy="21.3" rx="3.9" ry="2.2" fill="#98a43a" opacity="0.75"/>
<ellipse cx="118.7" cy="28.6" rx="3.9" ry="2.6" fill="#a6ac40" opacity="0.75"/>
<ellipse cx="147.5" cy="23.6" rx="1.7" ry="1.7" fill="#a6ac40" opacity="0.75"/>
<ellipse cx="139.0" cy="9.0" rx="4.1" ry="3.2" fill="#8e963c" opacity="0.75"/>
<ellipse cx="76.1" cy="11.7" rx="3.9" ry="1.8" fill="#a9a23e" opacity="0.75"/>
<ellipse cx="58.1" cy="18.3" rx="2.8" ry="2.3" fill="#a9a23e" opacity="0.75"/>
<ellipse cx="71.9" cy="25.7" rx="1.8" ry="2.9" fill="#a9a23e" opacity="0.75"/>
<ellipse cx="80.4" cy="11.8" rx="1.7" ry="1.9" fill="#a9a23e" opacity="0.75"/>
<ellipse cx="62.7" cy="29.2" rx="3.8" ry="1.7" fill="#9aa640" opacity="0.75"/>
<ellipse cx="101.9" cy="22.3" rx="3.6" ry="2.7" fill="#9aa640" opacity="0.75"/>
<ellipse cx="66.4" cy="24.8" rx="3.3" ry="1.5" fill="#9aa640" opacity="0.75"/>
<ellipse cx="107.9" cy="22.9" rx="3.5" ry="2.9" fill="#a9a23e" opacity="0.75"/>
<ellipse cx="109.0" cy="25.3" rx="3.1" ry="2.9" fill="#a9a23e" opacity="0.75"/>
<ellipse cx="104.3" cy="22.1" rx="3.9" ry="2.6" fill="#9aa640" opacity="0.75"/>
<ellipse cx="94.0" cy="12.6" rx="1.7" ry="2.5" fill="#a9a23e" opacity="0.75"/>
<ellipse cx="79.1" cy="19.6" rx="1.7" ry="1.4" fill="#9aa640" opacity="0.75"/>
<ellipse cx="96.1" cy="20.3" rx="1.6" ry="2.8" fill="#9aa640" opacity="0.75"/>
<ellipse cx="110.2" cy="28.1" rx="1.8" ry="2.3" fill="#9aa640" opacity="0.75"/>
<ellipse cx="99.3" cy="15.8" rx="1.8" ry="1.9" fill="#9aa640" opacity="0.75"/>
<ellipse cx="100.4" cy="15.4" rx="3.3" ry="2.2" fill="#9aa640" opacity="0.75"/>
<ellipse cx="62.3" cy="28.3" rx="2.3" ry="1.5" fill="#9aa640" opacity="0.75"/>
<ellipse cx="94.0" cy="12.5" rx="2.0" ry="1.9" fill="#9aa640" opacity="0.75"/>
<ellipse cx="96.8" cy="22.8" rx="1.9" ry="2.3" fill="#9aa640" opacity="0.75"/>
<ellipse cx="73.1" cy="23.8" rx="3.4" ry="2.6" fill="#9aa640" opacity="0.75"/>
<ellipse cx="97.7" cy="16.4" rx="2.8" ry="2.8" fill="#9aa640" opacity="0.75"/>
<ellipse cx="69.2" cy="29.6" rx="4.0" ry="1.4" fill="#9aa640" opacity="0.75"/>
<polygon points="116,39 197,40 197,64 150,59" fill="#b0806a"/>
<polygon points="124,45 150,44 170,52 150,56" fill="#c07c58" opacity="0.8"/>
<polygon points="152,45.5 197,46 197,54 160,53" fill="#62c232"/>
<polygon points="108,40.5 122,40.5 146,57 197,63.5 197,66.5 142,60.5" fill="#8a8a92"/>
<polygon points="-4,40 22,40 44,38 16,46 -4,51" fill="#8a8478"/>
<rect x="128.5" y="30" width="1.4" height="25" fill="#3a3a34"/>
<rect x="136" y="30" width="1.4" height="25" fill="#3a3a34"/>
<rect x="141" y="30" width="1.4" height="25" fill="#3a3a34"/>
<rect x="147.5" y="30" width="1.4" height="25" fill="#3a3a34"/>
<rect x="170" y="30" width="1.4" height="25" fill="#3a3a34"/>
<rect x="174.5" y="30" width="1.4" height="25" fill="#3a3a34"/>
<rect x="11" y="30" width="1.4" height="12" fill="#3a3a34"/>
<rect x="18.5" y="30" width="1.4" height="12" fill="#3a3a34"/>
<rect x="170.5" y="33" width="9" height="9.5" fill="#8ab0e0"/>
<rect x="179.2" y="31" width="5.3" height="15" fill="#3c52b8"/>
<rect x="179.6" y="46" width="4.6" height="13" fill="#8090d0"/>
<polygon points="3.0,61.4 9.2,61.4 10.2,59.4 4.5,59.4" fill="#b4b6c0"/>
<polygon points="13.2,61.4 19.4,61.4 20.4,59.4 14.7,59.4" fill="#b4b6c0"/>
<polygon points="23.4,61.4 29.6,61.4 30.6,59.4 24.9,59.4" fill="#b4b6c0"/>
<polygon points="33.6,61.4 39.8,61.4 40.8,59.4 35.1,59.4" fill="#b4b6c0"/>
<polygon points="43.8,61.4 50.0,61.4 51.0,59.4 45.3,59.4" fill="#b4b6c0"/>
<polygon points="54.0,61.4 60.2,61.4 61.2,59.4 55.5,59.4" fill="#b4b6c0"/>
<polygon points="64.2,61.4 70.4,61.4 71.4,59.4 65.7,59.4" fill="#b4b6c0"/>
<polygon points="74.4,61.4 80.6,61.4 81.6,59.4 75.9,59.4" fill="#b4b6c0"/>
<polygon points="84.6,61.4 90.8,61.4 91.8,59.4 86.1,59.4" fill="#b4b6c0"/>
<polygon points="105.0,61.4 111.2,61.4 112.2,59.4 106.5,59.4" fill="#b4b6c0"/>
<polygon points="115.2,61.4 121.4,61.4 122.4,59.4 116.7,59.4" fill="#b4b6c0"/>
<polygon points="125.4,61.4 131.6,61.4 132.6,59.4 126.9,59.4" fill="#b4b6c0"/>
<polygon points="135.6,61.4 141.8,61.4 142.8,59.4 137.1,59.4" fill="#b4b6c0"/>
<polygon points="145.8,61.4 152.0,61.4 153.0,59.4 147.3,59.4" fill="#b4b6c0"/>
<polygon points="133.5,76.6 197,79.2 197,81 133.5,78.6" fill="#b09a40"/>
<polygon points="-3,87 45,93 93,97.8 124,103 -3,104" fill="#73747c"/>
<polyline points="-3,86.6 45,92.6 93,97.4 124,101.5" fill="none" stroke="#a3b4cc" stroke-width="1.1"/>
<rect x="100" y="36.5" width="7" height="6.5" rx="1.5" fill="#b09868"/>
<path d="M57,50 Q57.5,43.5 62,42.4 L90,42.4 Q100,43.5 105.5,49 L105.5,58 L58,58.6 Z" fill="#8a9496"/>
<polygon points="60.5,48 63,43.6 82,43.6 84,48" fill="#4f8a62"/>
<rect x="58" y="53" width="38" height="3.4" fill="#7a8088"/>
<rect x="56.8" y="45.5" width="3.6" height="6" fill="#d83838"/>
<rect x="81" y="45.5" width="3.6" height="6" fill="#d83838"/>
<rect x="66" y="49" width="12" height="3" fill="#c8ccd0"/>
<ellipse cx="62.5" cy="58" rx="3" ry="2.6" fill="#1c1c1c"/>
<ellipse cx="87.5" cy="58" rx="3" ry="2.6" fill="#1c1c1c"/>
<ellipse cx="102.5" cy="56.5" rx="2" ry="3.2" fill="#1c1c1c"/>
<rect x="26.3" y="34.6" width="5" height="5" rx="1" fill="#2f6ee0"/>
<path d="M24.5,40 L32.5,40 L33.5,51.5 L24,51.5 Z" fill="#d23c4c"/>
<polygon points="25,51.5 28.5,51.5 25.5,58.6 21.5,58.6" fill="#c8c0c0"/>
<polygon points="29,51.5 32.5,51.5 35,58.6 31,58.6" fill="#c8c0c0"/>
<polygon points="31.5,47 37,55.5 35,57.5 30.5,50" fill="#e8e8ec"/>
<polygon points="21.5,45 24,45 24,52 21,51" fill="#d8d8dc"/>
<rect x="93.4" y="-3" width="6.8" height="108" fill="#8a8c88"/>
<rect x="93.4" y="-3" width="1.5" height="108" fill="#b0b2b2" opacity="0.6"/>
</g>
<path d="M0,0 L47,0 L47,14 Q56,18 60,26 L60,37 L0,37 Z" fill="#000" filter="url(#nzc)" opacity="0.24"/>
<path d="M56,13 Q66,9 76,11 Q88,8 93,10 L93,36 L56,37 Z" fill="#000" filter="url(#nzc)" opacity="0.24"/>
<path d="M100.5,10 Q108,9 116,12 L116,36 L100.5,36 Z" fill="#000" filter="url(#nzc)" opacity="0.24"/>
<path d="M113,0 L150,0 Q170,1 193,4 L193,37 L114,38 Q110,20 113,0 Z" fill="#000" filter="url(#nzc)" opacity="0.24"/>
<rect x="0" y="38" width="93" height="22" fill="#000" filter="url(#nzc)" opacity="0.08"/>
<rect x="100.5" y="38" width="92.5" height="24" fill="#000" filter="url(#nzc)" opacity="0.08"/>
<rect x="0" y="60" width="193" height="42" fill="#000" filter="url(#nzg)" opacity="0.02"/>
</g>
<rect x="657.5" y="432" width="27.7" height="23.4" fill="#8b8b91"/>
<rect x="492.4" y="352.4" width="192.35" height="101.7" fill="none" stroke="#1a1a1a" stroke-width="1.0"/>
<text x="663.2" y="450.4" font-size="20" text-anchor="start"><tspan class="b">X</tspan><tspan font-size="11" dx="0.6">1</tspan></text>
<g transform="translate(492.4,479.6) scale(0.4990,0.4961)" clip-path="url(#c3)">
<g filter="url(#bl)">
<rect x="-4" y="-4" width="201" height="110" fill="#6c6d76"/>
<rect x="-4" y="36" width="201" height="10" fill="#696a73"/>
<rect x="-4" y="-4" width="201" height="42" fill="#7b7b7e"/>
<rect x="48" y="6.5" width="30" height="1.2" fill="#4a9a7a" opacity="0.8"/>
<rect x="52" y="9.5" width="36" height="1.2" fill="#6a7ab0" opacity="0.8"/>
<polygon points="10,-2 47,-2 47,11 40,13 28,8 10,7" fill="#b0a050"/>
<rect x="148" y="3" width="50" height="34" fill="#8c8a72"/>
<rect x="150" y="15" width="48" height="7.5" fill="#b87c42"/>
<path d="M56,13 Q66,9 76,11 Q88,8 100,10 Q108,9 116,12 L116,36 L56,37 Z" fill="#a9a23e"/>
<path d="M56,21 Q80,19 116,22 L116,37 L56,37 Z" fill="#9aa640"/>
<rect x="78" y="26" width="14" height="7" fill="#c8b478"/>
<rect x="101" y="28" width="6" height="5" fill="#c8b478" opacity="0.8"/>
<rect x="58" y="32.5" width="60" height="4" fill="#58b840"/>
<rect x="82" y="33" width="11" height="2.6" fill="#c83048"/>
<path d="M-3,-3 L12,-3 Q18,5 28,8 Q40,8 47,14 Q56,18 60,26 L60,38 L-3,38 Z" fill="#8fb03f"/>
<path d="M0,4 Q10,0 18,8 Q30,12 40,14 Q52,20 54,27 Q40,30 26,26 Q8,24 0,14 Z" fill="#a9b246" opacity="0.7"/>
<path d="M-3,29 L60,30 L60,38 L-3,38 Z" fill="#8a9440" opacity="0.85"/>
<rect x="10" y="6" width="9" height="5" fill="#b0a050" opacity="0.8"/>
<rect x="6" y="14" width="8" height="3" fill="#b0a050" opacity="0.6"/>
<rect x="15" y="31" width="8" height="4" fill="#c8b478" opacity="0.8"/>
<rect x="40" y="32" width="12" height="3" fill="#c8b478" opacity="0.7"/>
<path d="M113,-3 L150,-3 Q170,-1 193,4 L193,10 Q176,8 168,16 Q172,28 168,38 L114,38 Q110,20 113,-3 Z" fill="#98a43a"/>
<path d="M116,4 Q130,0 146,6 Q158,12 160,24 Q144,30 126,27 Q116,20 116,4 Z" fill="#a6ac40" opacity="0.7"/>
<path d="M114,27 L170,27 L168,38 L114,38 Z" fill="#8e963c" opacity="0.8"/>
<rect x="118" y="33" width="78" height="5" fill="#58b840"/>
<ellipse cx="18.8" cy="6.8" rx="3.3" ry="1.5" fill="#8a9440" opacity="0.75"/>
<ellipse cx="5.5" cy="20.6" rx="4.0" ry="1.8" fill="#8fb03f" opacity="0.75"/>
<ellipse cx="5.3" cy="15.6" rx="3.7" ry="1.6" fill="#8fb03f" opacity="0.75"/>
<ellipse cx="36.6" cy="20.7" rx="1.8" ry="2.5" fill="#8fb03f" opacity="0.75"/>
<ellipse cx="8.4" cy="5.8" rx="2.4" ry="2.9" fill="#8fb03f" opacity="0.75"/>
<ellipse cx="6.0" cy="20.3" rx="2.1" ry="1.6" fill="#8a9440" opacity="0.75"/>
<ellipse cx="3.6" cy="3.9" rx="2.1" ry="2.6" fill="#a9b246" opacity="0.75"/>
<ellipse cx="45.1" cy="16.9" rx="4.0" ry="2.1" fill="#8fb03f" opacity="0.75"/>
<ellipse cx="46.1" cy="24.4" rx="2.2" ry="2.4" fill="#8a9440" opacity="0.75"/>
<ellipse cx="28.7" cy="13.0" rx="2.8" ry="2.5" fill="#8fb03f" opacity="0.75"/>
<ellipse cx="6.8" cy="15.4" rx="3.6" ry="1.7" fill="#a9b246" opacity="0.75"/>
<ellipse cx="24.5" cy="32.8" rx="1.8" ry="2.4" fill="#a9b246" opacity="0.75"/>
<ellipse cx="19.7" cy="13.2" rx="2.9" ry="2.8" fill="#8fb03f" opacity="0.75"/>
<ellipse cx="48.7" cy="32.2" rx="2.8" ry="2.6" fill="#8fb03f" opacity="0.75"/>
<ellipse cx="33.5" cy="23.8" rx="2.8" ry="2.7" fill="#8a9440" opacity="0.75"/>
<ellipse cx="20.1" cy="32.1" rx="2.5" ry="2.5" fill="#a9b246" opacity="0.75"/>
<ellipse cx="3.4" cy="26.6" rx="1.9" ry="1.8" fill="#a9b246" opacity="0.75"/>
<ellipse cx="53.2" cy="17.9" rx="2.0" ry="2.1" fill="#a9b246" opacity="0.75"/>
<ellipse cx="51.2" cy="28.2" rx="3.8" ry="1.9" fill="#a9b246" opacity="0.75"/>
<ellipse cx="57.2" cy="23.8" rx="2.6" ry="1.8" fill="#8fb03f" opacity="0.75"/>
<ellipse cx="10.2" cy="9.4" rx="2.2" ry="2.3" fill="#8a9440" opacity="0.75"/>
<ellipse cx="10.6" cy="11.0" rx="2.0" ry="2.4" fill="#8a9440" opacity="0.75"/>
<ellipse cx="32.8" cy="32.5" rx="3.4" ry="2.3" fill="#8a9440" opacity="0.75"/>
<ellipse cx="38.0" cy="25.7" rx="2.8" ry="3.0" fill="#8a9440" opacity="0.75"/>
<ellipse cx="46.3" cy="14.6" rx="2.6" ry="1.6" fill="#8a9440" opacity="0.75"/>
<ellipse cx="23.2" cy="8.1" rx="4.2" ry="2.2" fill="#8fb03f" opacity="0.75"/>
<ellipse cx="19.7" cy="3.7" rx="1.6" ry="1.7" fill="#8fb03f" opacity="0.75"/>
<ellipse cx="55.0" cy="21.6" rx="1.8" ry="1.8" fill="#a9b246" opacity="0.75"/>
<ellipse cx="8.6" cy="10.1" rx="2.5" ry="2.1" fill="#8fb03f" opacity="0.75"/>
<ellipse cx="6.7" cy="17.6" rx="4.1" ry="2.3" fill="#a9b246" opacity="0.75"/>
<ellipse cx="5.0" cy="5.3" rx="2.5" ry="1.9" fill="#8a9440" opacity="0.75"/>
<ellipse cx="9.4" cy="2.7" rx="4.1" ry="2.4" fill="#8fb03f" opacity="0.75"/>
<ellipse cx="40.0" cy="31.3" rx="3.6" ry="1.9" fill="#8a9440" opacity="0.75"/>
<ellipse cx="50.1" cy="24.3" rx="2.3" ry="2.1" fill="#8fb03f" opacity="0.75"/>
<ellipse cx="20.6" cy="9.1" rx="3.0" ry="2.3" fill="#8a9440" opacity="0.75"/>
<ellipse cx="12.9" cy="28.0" rx="4.2" ry="2.9" fill="#8fb03f" opacity="0.75"/>
<ellipse cx="47.5" cy="25.7" rx="2.2" ry="2.3" fill="#a9b246" opacity="0.75"/>
<ellipse cx="42.4" cy="33.7" rx="3.7" ry="2.3" fill="#8fb03f" opacity="0.75"/>
<ellipse cx="40.2" cy="32.6" rx="2.8" ry="3.1" fill="#a9b246" opacity="0.75"/>
<ellipse cx="55.4" cy="13.7" rx="2.2" ry="1.8" fill="#8fb03f" opacity="0.75"/>
<ellipse cx="19.6" cy="17.4" rx="4.2" ry="2.5" fill="#8fb03f" opacity="0.75"/>
<ellipse cx="27.8" cy="22.9" rx="3.7" ry="1.6" fill="#8a9440" opacity="0.75"/>
<ellipse cx="120.7" cy="13.2" rx="3.4" ry="1.8" fill="#98a43a" opacity="0.75"/>
<ellipse cx="138.3" cy="21.6" rx="1.8" ry="3.1" fill="#8e963c" opacity="0.75"/>
<ellipse cx="136.2" cy="13.6" rx="4.1" ry="2.7" fill="#98a43a" opacity="0.75"/>
<ellipse cx="169.6" cy="0.9" rx="3.1" ry="2.2" fill="#8e963c" opacity="0.75"/>
<ellipse cx="122.2" cy="28.1" rx="4.1" ry="2.6" fill="#a6ac40" opacity="0.75"/>
<ellipse cx="122.7" cy="18.6" rx="1.7" ry="2.8" fill="#8e963c" opacity="0.75"/>
<ellipse cx="150.4" cy="17.9" rx="4.0" ry="2.2" fill="#98a43a" opacity="0.75"/>
<ellipse cx="160.3" cy="7.2" rx="2.3" ry="1.9" fill="#98a43a" opacity="0.75"/>
<ellipse cx="156.8" cy="11.1" rx="3.0" ry="2.9" fill="#98a43a" opacity="0.75"/>
<ellipse cx="165.0" cy="12.0" rx="2.8" ry="2.5" fill="#8e963c" opacity="0.75"/>
<ellipse cx="137.6" cy="31.2" rx="2.9" ry="2.4" fill="#8e963c" opacity="0.75"/>
<ellipse cx="142.6" cy="29.7" rx="3.6" ry="2.5" fill="#98a43a" opacity="0.75"/>
<ellipse cx="123.7" cy="16.1" rx="3.5" ry="2.4" fill="#a6ac40" opacity="0.75"/>
<ellipse cx="152.2" cy="18.0" rx="2.9" ry="2.8" fill="#8e963c" opacity="0.75"/>
<ellipse cx="117.2" cy="6.5" rx="1.7" ry="1.6" fill="#a6ac40" opacity="0.75"/>
<ellipse cx="145.5" cy="25.8" rx="4.0" ry="2.2" fill="#8e963c" opacity="0.75"/>
<ellipse cx="168.5" cy="20.6" rx="2.1" ry="1.9" fill="#8e963c" opacity="0.75"/>
<ellipse cx="143.9" cy="16.3" rx="4.0" ry="2.7" fill="#a6ac40" opacity="0.75"/>
<ellipse cx="165.7" cy="30.4" rx="2.1" ry="2.2" fill="#a6ac40" opacity="0.75"/>
<ellipse cx="120.8" cy="15.0" rx="1.8" ry="1.8" fill="#98a43a" opacity="0.75"/>
<ellipse cx="125.9" cy="10.3" rx="1.9" ry="2.8" fill="#8e963c" opacity="0.75"/>
<ellipse cx="150.0" cy="12.5" rx="2.3" ry="1.6" fill="#a6ac40" opacity="0.75"/>
<ellipse cx="126.3" cy="32.4" rx="2.6" ry="2.3" fill="#8e963c" opacity="0.75"/>
<ellipse cx="160.6" cy="5.5" rx="2.7" ry="2.3" fill="#a6ac40" opacity="0.75"/>
<ellipse cx="137.6" cy="12.1" rx="1.8" ry="2.1" fill="#a6ac40" opacity="0.75"/>
<ellipse cx="145.0" cy="15.0" rx="1.6" ry="2.0" fill="#8e963c" opacity="0.75"/>
<ellipse cx="130.5" cy="32.7" rx="1.9" ry="3.1" fill="#98a43a" opacity="0.75"/>
<ellipse cx="168.4" cy="3.6" rx="2.3" ry="1.5" fill="#98a43a" opacity="0.75"/>
<ellipse cx="129.1" cy="4.4" rx="2.7" ry="3.0" fill="#a6ac40" opacity="0.75"/>
<ellipse cx="136.7" cy="18.2" rx="2.9" ry="2.3" fill="#a6ac40" opacity="0.75"/>
<ellipse cx="119.0" cy="2.0" rx="3.4" ry="2.2" fill="#98a43a" opacity="0.75"/>
<ellipse cx="129.1" cy="0.6" rx="1.8" ry="1.9" fill="#8e963c" opacity="0.75"/>
<ellipse cx="161.9" cy="2.3" rx="3.8" ry="2.2" fill="#a6ac40" opacity="0.75"/>
<ellipse cx="169.7" cy="14.2" rx="4.0" ry="2.5" fill="#98a43a" opacity="0.75"/>
<ellipse cx="143.5" cy="8.1" rx="1.9" ry="1.7" fill="#98a43a" opacity="0.75"/>
<ellipse cx="124.1" cy="31.7" rx="3.2" ry="2.4" fill="#98a43a" opacity="0.75"/>
<ellipse cx="130.2" cy="17.0" rx="2.1" ry="2.0" fill="#98a43a" opacity="0.75"/>
<ellipse cx="169.7" cy="1.3" rx="1.6" ry="2.3" fill="#98a43a" opacity="0.75"/>
<ellipse cx="142.8" cy="8.4" rx="2.8" ry="2.6" fill="#8e963c" opacity="0.75"/>
<ellipse cx="138.2" cy="16.8" rx="3.8" ry="2.1" fill="#8e963c" opacity="0.75"/>
<ellipse cx="131.2" cy="7.3" rx="2.2" ry="1.8" fill="#8e963c" opacity="0.75"/>
<ellipse cx="154.8" cy="4.8" rx="4.2" ry="3.2" fill="#98a43a" opacity="0.75"/>
<ellipse cx="114.8" cy="21.3" rx="3.9" ry="2.2" fill="#98a43a" opacity="0.75"/>
<ellipse cx="118.7" cy="28.6" rx="3.9" ry="2.6" fill="#a6ac40" opacity="0.75"/>
<ellipse cx="147.5" cy="23.6" rx="1.7" ry="1.7" fill="#a6ac40" opacity="0.75"/>
<ellipse cx="139.0" cy="9.0" rx="4.1" ry="3.2" fill="#8e963c" opacity="0.75"/>
<ellipse cx="76.1" cy="11.7" rx="3.9" ry="1.8" fill="#a9a23e" opacity="0.75"/>
<ellipse cx="58.1" cy="18.3" rx="2.8" ry="2.3" fill="#a9a23e" opacity="0.75"/>
<ellipse cx="71.9" cy="25.7" rx="1.8" ry="2.9" fill="#a9a23e" opacity="0.75"/>
<ellipse cx="80.4" cy="11.8" rx="1.7" ry="1.9" fill="#a9a23e" opacity="0.75"/>
<ellipse cx="62.7" cy="29.2" rx="3.8" ry="1.7" fill="#9aa640" opacity="0.75"/>
<ellipse cx="101.9" cy="22.3" rx="3.6" ry="2.7" fill="#9aa640" opacity="0.75"/>
<ellipse cx="66.4" cy="24.8" rx="3.3" ry="1.5" fill="#9aa640" opacity="0.75"/>
<ellipse cx="107.9" cy="22.9" rx="3.5" ry="2.9" fill="#a9a23e" opacity="0.75"/>
<ellipse cx="109.0" cy="25.3" rx="3.1" ry="2.9" fill="#a9a23e" opacity="0.75"/>
<ellipse cx="104.3" cy="22.1" rx="3.9" ry="2.6" fill="#9aa640" opacity="0.75"/>
<ellipse cx="94.0" cy="12.6" rx="1.7" ry="2.5" fill="#a9a23e" opacity="0.75"/>
<ellipse cx="79.1" cy="19.6" rx="1.7" ry="1.4" fill="#9aa640" opacity="0.75"/>
<ellipse cx="96.1" cy="20.3" rx="1.6" ry="2.8" fill="#9aa640" opacity="0.75"/>
<ellipse cx="110.2" cy="28.1" rx="1.8" ry="2.3" fill="#9aa640" opacity="0.75"/>
<ellipse cx="99.3" cy="15.8" rx="1.8" ry="1.9" fill="#9aa640" opacity="0.75"/>
<ellipse cx="100.4" cy="15.4" rx="3.3" ry="2.2" fill="#9aa640" opacity="0.75"/>
<ellipse cx="62.3" cy="28.3" rx="2.3" ry="1.5" fill="#9aa640" opacity="0.75"/>
<ellipse cx="94.0" cy="12.5" rx="2.0" ry="1.9" fill="#9aa640" opacity="0.75"/>
<ellipse cx="96.8" cy="22.8" rx="1.9" ry="2.3" fill="#9aa640" opacity="0.75"/>
<ellipse cx="73.1" cy="23.8" rx="3.4" ry="2.6" fill="#9aa640" opacity="0.75"/>
<ellipse cx="97.7" cy="16.4" rx="2.8" ry="2.8" fill="#9aa640" opacity="0.75"/>
<ellipse cx="69.2" cy="29.6" rx="4.0" ry="1.4" fill="#9aa640" opacity="0.75"/>
<polygon points="116,39 197,40 197,64 150,59" fill="#b0806a"/>
<polygon points="124,45 150,44 170,52 150,56" fill="#c07c58" opacity="0.8"/>
<polygon points="152,45.5 197,46 197,54 160,53" fill="#62c232"/>
<polygon points="108,40.5 122,40.5 146,57 197,63.5 197,66.5 142,60.5" fill="#8a8a92"/>
<polygon points="-4,40 22,40 44,38 16,46 -4,51" fill="#8a8478"/>
<rect x="128.5" y="30" width="1.4" height="25" fill="#3a3a34"/>
<rect x="136" y="30" width="1.4" height="25" fill="#3a3a34"/>
<rect x="141" y="30" width="1.4" height="25" fill="#3a3a34"/>
<rect x="147.5" y="30" width="1.4" height="25" fill="#3a3a34"/>
<rect x="170" y="30" width="1.4" height="25" fill="#3a3a34"/>
<rect x="174.5" y="30" width="1.4" height="25" fill="#3a3a34"/>
<rect x="11" y="30" width="1.4" height="12" fill="#3a3a34"/>
<rect x="18.5" y="30" width="1.4" height="12" fill="#3a3a34"/>
<rect x="170.5" y="33" width="9" height="9.5" fill="#8ab0e0"/>
<rect x="179.2" y="31" width="5.3" height="15" fill="#3c52b8"/>
<rect x="179.6" y="46" width="4.6" height="13" fill="#8090d0"/>
<polygon points="3.0,61.4 9.2,61.4 10.2,59.4 4.5,59.4" fill="#b4b6c0"/>
<polygon points="13.2,61.4 19.4,61.4 20.4,59.4 14.7,59.4" fill="#b4b6c0"/>
<polygon points="23.4,61.4 29.6,61.4 30.6,59.4 24.9,59.4" fill="#b4b6c0"/>
<polygon points="33.6,61.4 39.8,61.4 40.8,59.4 35.1,59.4" fill="#b4b6c0"/>
<polygon points="43.8,61.4 50.0,61.4 51.0,59.4 45.3,59.4" fill="#b4b6c0"/>
<polygon points="54.0,61.4 60.2,61.4 61.2,59.4 55.5,59.4" fill="#b4b6c0"/>
<polygon points="64.2,61.4 70.4,61.4 71.4,59.4 65.7,59.4" fill="#b4b6c0"/>
<polygon points="74.4,61.4 80.6,61.4 81.6,59.4 75.9,59.4" fill="#b4b6c0"/>
<polygon points="84.6,61.4 90.8,61.4 91.8,59.4 86.1,59.4" fill="#b4b6c0"/>
<polygon points="105.0,61.4 111.2,61.4 112.2,59.4 106.5,59.4" fill="#b4b6c0"/>
<polygon points="115.2,61.4 121.4,61.4 122.4,59.4 116.7,59.4" fill="#b4b6c0"/>
<polygon points="125.4,61.4 131.6,61.4 132.6,59.4 126.9,59.4" fill="#b4b6c0"/>
<polygon points="135.6,61.4 141.8,61.4 142.8,59.4 137.1,59.4" fill="#b4b6c0"/>
<polygon points="145.8,61.4 152.0,61.4 153.0,59.4 147.3,59.4" fill="#b4b6c0"/>
<polygon points="133.5,76.6 197,79.2 197,81 133.5,78.6" fill="#b09a40"/>
<polygon points="-3,87 45,93 93,97.8 124,103 -3,104" fill="#73747c"/>
<polyline points="-3,86.6 45,92.6 93,97.4 124,101.5" fill="none" stroke="#a3b4cc" stroke-width="1.1"/>
<rect x="100" y="36.5" width="7" height="6.5" rx="1.5" fill="#b09868"/>
<path d="M57,50 Q57.5,43.5 62,42.4 L90,42.4 Q100,43.5 105.5,49 L105.5,58 L58,58.6 Z" fill="#8a9496"/>
<polygon points="60.5,48 63,43.6 82,43.6 84,48" fill="#4f8a62"/>
<rect x="58" y="53" width="38" height="3.4" fill="#7a8088"/>
<rect x="56.8" y="45.5" width="3.6" height="6" fill="#d83838"/>
<rect x="81" y="45.5" width="3.6" height="6" fill="#d83838"/>
<rect x="66" y="49" width="12" height="3" fill="#c8ccd0"/>
<ellipse cx="62.5" cy="58" rx="3" ry="2.6" fill="#1c1c1c"/>
<ellipse cx="87.5" cy="58" rx="3" ry="2.6" fill="#1c1c1c"/>
<ellipse cx="102.5" cy="56.5" rx="2" ry="3.2" fill="#1c1c1c"/>
<rect x="26.3" y="34.6" width="5" height="5" rx="1" fill="#2f6ee0"/>
<path d="M24.5,40 L32.5,40 L33.5,51.5 L24,51.5 Z" fill="#d23c4c"/>
<polygon points="25,51.5 28.5,51.5 25.5,58.6 21.5,58.6" fill="#c8c0c0"/>
<polygon points="29,51.5 32.5,51.5 35,58.6 31,58.6" fill="#c8c0c0"/>
<polygon points="31.5,47 37,55.5 35,57.5 30.5,50" fill="#e8e8ec"/>
<polygon points="21.5,45 24,45 24,52 21,51" fill="#d8d8dc"/>
<rect x="93.4" y="-3" width="6.8" height="108" fill="#8a8c88"/>
<rect x="93.4" y="-3" width="1.5" height="108" fill="#b0b2b2" opacity="0.6"/>
</g>
<path d="M0,0 L47,0 L47,14 Q56,18 60,26 L60,37 L0,37 Z" fill="#000" filter="url(#nzc)" opacity="0.24"/>
<path d="M56,13 Q66,9 76,11 Q88,8 93,10 L93,36 L56,37 Z" fill="#000" filter="url(#nzc)" opacity="0.24"/>
<path d="M100.5,10 Q108,9 116,12 L116,36 L100.5,36 Z" fill="#000" filter="url(#nzc)" opacity="0.24"/>
<path d="M113,0 L150,0 Q170,1 193,4 L193,37 L114,38 Q110,20 113,0 Z" fill="#000" filter="url(#nzc)" opacity="0.24"/>
<rect x="0" y="38" width="93" height="22" fill="#000" filter="url(#nzc)" opacity="0.08"/>
<rect x="100.5" y="38" width="92.5" height="24" fill="#000" filter="url(#nzc)" opacity="0.08"/>
<rect x="0" y="60" width="193" height="42" fill="#000" filter="url(#nzg)" opacity="0.02"/>
</g>
<rect x="560" y="507" width="29" height="23.5" fill="#8b8b91"/>
<rect x="492.4" y="479.6" width="96.3" height="50.6" fill="none" stroke="#1a1a1a" stroke-width="1.0"/>
<text x="565.9" y="524.5" font-size="19.5" text-anchor="start"><tspan class="b">X</tspan><tspan font-size="13.5">2</tspan></text>
<g transform="translate(492.4,549.6) scale(0.2528,0.2402)" clip-path="url(#c4)">
<g filter="url(#bl)">
<rect x="-4" y="-4" width="201" height="110" fill="#6c6d76"/>
<rect x="-4" y="36" width="201" height="10" fill="#696a73"/>
<rect x="-4" y="-4" width="201" height="42" fill="#7b7b7e"/>
<rect x="48" y="6.5" width="30" height="1.2" fill="#4a9a7a" opacity="0.8"/>
<rect x="52" y="9.5" width="36" height="1.2" fill="#6a7ab0" opacity="0.8"/>
<polygon points="10,-2 47,-2 47,11 40,13 28,8 10,7" fill="#b0a050"/>
<rect x="148" y="3" width="50" height="34" fill="#8c8a72"/>
<rect x="150" y="15" width="48" height="7.5" fill="#b87c42"/>
<path d="M56,13 Q66,9 76,11 Q88,8 100,10 Q108,9 116,12 L116,36 L56,37 Z" fill="#a9a23e"/>
<path d="M56,21 Q80,19 116,22 L116,37 L56,37 Z" fill="#9aa640"/>
<rect x="78" y="26" width="14" height="7" fill="#c8b478"/>
<rect x="101" y="28" width="6" height="5" fill="#c8b478" opacity="0.8"/>
<rect x="58" y="32.5" width="60" height="4" fill="#58b840"/>
<rect x="82" y="33" width="11" height="2.6" fill="#c83048"/>
<path d="M-3,-3 L12,-3 Q18,5 28,8 Q40,8 47,14 Q56,18 60,26 L60,38 L-3,38 Z" fill="#8fb03f"/>
<path d="M0,4 Q10,0 18,8 Q30,12 40,14 Q52,20 54,27 Q40,30 26,26 Q8,24 0,14 Z" fill="#a9b246" opacity="0.7"/>
<path d="M-3,29 L60,30 L60,38 L-3,38 Z" fill="#8a9440" opacity="0.85"/>
<rect x="10" y="6" width="9" height="5" fill="#b0a050" opacity="0.8"/>
<rect x="6" y="14" width="8" height="3" fill="#b0a050" opacity="0.6"/>
<rect x="15" y="31" width="8" height="4" fill="#c8b478" opacity="0.8"/>
<rect x="40" y="32" width="12" height="3" fill="#c8b478" opacity="0.7"/>
<path d="M113,-3 L150,-3 Q170,-1 193,4 L193,10 Q176,8 168,16 Q172,28 168,38 L114,38 Q110,20 113,-3 Z" fill="#98a43a"/>
<path d="M116,4 Q130,0 146,6 Q158,12 160,24 Q144,30 126,27 Q116,20 116,4 Z" fill="#a6ac40" opacity="0.7"/>
<path d="M114,27 L170,27 L168,38 L114,38 Z" fill="#8e963c" opacity="0.8"/>
<rect x="118" y="33" width="78" height="5" fill="#58b840"/>
<ellipse cx="18.8" cy="6.8" rx="3.3" ry="1.5" fill="#8a9440" opacity="0.75"/>
<ellipse cx="5.5" cy="20.6" rx="4.0" ry="1.8" fill="#8fb03f" opacity="0.75"/>
<ellipse cx="5.3" cy="15.6" rx="3.7" ry="1.6" fill="#8fb03f" opacity="0.75"/>
<ellipse cx="36.6" cy="20.7" rx="1.8" ry="2.5" fill="#8fb03f" opacity="0.75"/>
<ellipse cx="8.4" cy="5.8" rx="2.4" ry="2.9" fill="#8fb03f" opacity="0.75"/>
<ellipse cx="6.0" cy="20.3" rx="2.1" ry="1.6" fill="#8a9440" opacity="0.75"/>
<ellipse cx="3.6" cy="3.9" rx="2.1" ry="2.6" fill="#a9b246" opacity="0.75"/>
<ellipse cx="45.1" cy="16.9" rx="4.0" ry="2.1" fill="#8fb03f" opacity="0.75"/>
<ellipse cx="46.1" cy="24.4" rx="2.2" ry="2.4" fill="#8a9440" opacity="0.75"/>
<ellipse cx="28.7" cy="13.0" rx="2.8" ry="2.5" fill="#8fb03f" opacity="0.75"/>
<ellipse cx="6.8" cy="15.4" rx="3.6" ry="1.7" fill="#a9b246" opacity="0.75"/>
<ellipse cx="24.5" cy="32.8" rx="1.8" ry="2.4" fill="#a9b246" opacity="0.75"/>
<ellipse cx="19.7" cy="13.2" rx="2.9" ry="2.8" fill="#8fb03f" opacity="0.75"/>
<ellipse cx="48.7" cy="32.2" rx="2.8" ry="2.6" fill="#8fb03f" opacity="0.75"/>
<ellipse cx="33.5" cy="23.8" rx="2.8" ry="2.7" fill="#8a9440" opacity="0.75"/>
<ellipse cx="20.1" cy="32.1" rx="2.5" ry="2.5" fill="#a9b246" opacity="0.75"/>
<ellipse cx="3.4" cy="26.6" rx="1.9" ry="1.8" fill="#a9b246" opacity="0.75"/>
<ellipse cx="53.2" cy="17.9" rx="2.0" ry="2.1" fill="#a9b246" opacity="0.75"/>
<ellipse cx="51.2" cy="28.2" rx="3.8" ry="1.9" fill="#a9b246" opacity="0.75"/>
<ellipse cx="57.2" cy="23.8" rx="2.6" ry="1.8" fill="#8fb03f" opacity="0.75"/>
<ellipse cx="10.2" cy="9.4" rx="2.2" ry="2.3" fill="#8a9440" opacity="0.75"/>
<ellipse cx="10.6" cy="11.0" rx="2.0" ry="2.4" fill="#8a9440" opacity="0.75"/>
<ellipse cx="32.8" cy="32.5" rx="3.4" ry="2.3" fill="#8a9440" opacity="0.75"/>
<ellipse cx="38.0" cy="25.7" rx="2.8" ry="3.0" fill="#8a9440" opacity="0.75"/>
<ellipse cx="46.3" cy="14.6" rx="2.6" ry="1.6" fill="#8a9440" opacity="0.75"/>
<ellipse cx="23.2" cy="8.1" rx="4.2" ry="2.2" fill="#8fb03f" opacity="0.75"/>
<ellipse cx="19.7" cy="3.7" rx="1.6" ry="1.7" fill="#8fb03f" opacity="0.75"/>
<ellipse cx="55.0" cy="21.6" rx="1.8" ry="1.8" fill="#a9b246" opacity="0.75"/>
<ellipse cx="8.6" cy="10.1" rx="2.5" ry="2.1" fill="#8fb03f" opacity="0.75"/>
<ellipse cx="6.7" cy="17.6" rx="4.1" ry="2.3" fill="#a9b246" opacity="0.75"/>
<ellipse cx="5.0" cy="5.3" rx="2.5" ry="1.9" fill="#8a9440" opacity="0.75"/>
<ellipse cx="9.4" cy="2.7" rx="4.1" ry="2.4" fill="#8fb03f" opacity="0.75"/>
<ellipse cx="40.0" cy="31.3" rx="3.6" ry="1.9" fill="#8a9440" opacity="0.75"/>
<ellipse cx="50.1" cy="24.3" rx="2.3" ry="2.1" fill="#8fb03f" opacity="0.75"/>
<ellipse cx="20.6" cy="9.1" rx="3.0" ry="2.3" fill="#8a9440" opacity="0.75"/>
<ellipse cx="12.9" cy="28.0" rx="4.2" ry="2.9" fill="#8fb03f" opacity="0.75"/>
<ellipse cx="47.5" cy="25.7" rx="2.2" ry="2.3" fill="#a9b246" opacity="0.75"/>
<ellipse cx="42.4" cy="33.7" rx="3.7" ry="2.3" fill="#8fb03f" opacity="0.75"/>
<ellipse cx="40.2" cy="32.6" rx="2.8" ry="3.1" fill="#a9b246" opacity="0.75"/>
<ellipse cx="55.4" cy="13.7" rx="2.2" ry="1.8" fill="#8fb03f" opacity="0.75"/>
<ellipse cx="19.6" cy="17.4" rx="4.2" ry="2.5" fill="#8fb03f" opacity="0.75"/>
<ellipse cx="27.8" cy="22.9" rx="3.7" ry="1.6" fill="#8a9440" opacity="0.75"/>
<ellipse cx="120.7" cy="13.2" rx="3.4" ry="1.8" fill="#98a43a" opacity="0.75"/>
<ellipse cx="138.3" cy="21.6" rx="1.8" ry="3.1" fill="#8e963c" opacity="0.75"/>
<ellipse cx="136.2" cy="13.6" rx="4.1" ry="2.7" fill="#98a43a" opacity="0.75"/>
<ellipse cx="169.6" cy="0.9" rx="3.1" ry="2.2" fill="#8e963c" opacity="0.75"/>
<ellipse cx="122.2" cy="28.1" rx="4.1" ry="2.6" fill="#a6ac40" opacity="0.75"/>
<ellipse cx="122.7" cy="18.6" rx="1.7" ry="2.8" fill="#8e963c" opacity="0.75"/>
<ellipse cx="150.4" cy="17.9" rx="4.0" ry="2.2" fill="#98a43a" opacity="0.75"/>
<ellipse cx="160.3" cy="7.2" rx="2.3" ry="1.9" fill="#98a43a" opacity="0.75"/>
<ellipse cx="156.8" cy="11.1" rx="3.0" ry="2.9" fill="#98a43a" opacity="0.75"/>
<ellipse cx="165.0" cy="12.0" rx="2.8" ry="2.5" fill="#8e963c" opacity="0.75"/>
<ellipse cx="137.6" cy="31.2" rx="2.9" ry="2.4" fill="#8e963c" opacity="0.75"/>
<ellipse cx="142.6" cy="29.7" rx="3.6" ry="2.5" fill="#98a43a" opacity="0.75"/>
<ellipse cx="123.7" cy="16.1" rx="3.5" ry="2.4" fill="#a6ac40" opacity="0.75"/>
<ellipse cx="152.2" cy="18.0" rx="2.9" ry="2.8" fill="#8e963c" opacity="0.75"/>
<ellipse cx="117.2" cy="6.5" rx="1.7" ry="1.6" fill="#a6ac40" opacity="0.75"/>
<ellipse cx="145.5" cy="25.8" rx="4.0" ry="2.2" fill="#8e963c" opacity="0.75"/>
<ellipse cx="168.5" cy="20.6" rx="2.1" ry="1.9" fill="#8e963c" opacity="0.75"/>
<ellipse cx="143.9" cy="16.3" rx="4.0" ry="2.7" fill="#a6ac40" opacity="0.75"/>
<ellipse cx="165.7" cy="30.4" rx="2.1" ry="2.2" fill="#a6ac40" opacity="0.75"/>
<ellipse cx="120.8" cy="15.0" rx="1.8" ry="1.8" fill="#98a43a" opacity="0.75"/>
<ellipse cx="125.9" cy="10.3" rx="1.9" ry="2.8" fill="#8e963c" opacity="0.75"/>
<ellipse cx="150.0" cy="12.5" rx="2.3" ry="1.6" fill="#a6ac40" opacity="0.75"/>
<ellipse cx="126.3" cy="32.4" rx="2.6" ry="2.3" fill="#8e963c" opacity="0.75"/>
<ellipse cx="160.6" cy="5.5" rx="2.7" ry="2.3" fill="#a6ac40" opacity="0.75"/>
<ellipse cx="137.6" cy="12.1" rx="1.8" ry="2.1" fill="#a6ac40" opacity="0.75"/>
<ellipse cx="145.0" cy="15.0" rx="1.6" ry="2.0" fill="#8e963c" opacity="0.75"/>
<ellipse cx="130.5" cy="32.7" rx="1.9" ry="3.1" fill="#98a43a" opacity="0.75"/>
<ellipse cx="168.4" cy="3.6" rx="2.3" ry="1.5" fill="#98a43a" opacity="0.75"/>
<ellipse cx="129.1" cy="4.4" rx="2.7" ry="3.0" fill="#a6ac40" opacity="0.75"/>
<ellipse cx="136.7" cy="18.2" rx="2.9" ry="2.3" fill="#a6ac40" opacity="0.75"/>
<ellipse cx="119.0" cy="2.0" rx="3.4" ry="2.2" fill="#98a43a" opacity="0.75"/>
<ellipse cx="129.1" cy="0.6" rx="1.8" ry="1.9" fill="#8e963c" opacity="0.75"/>
<ellipse cx="161.9" cy="2.3" rx="3.8" ry="2.2" fill="#a6ac40" opacity="0.75"/>
<ellipse cx="169.7" cy="14.2" rx="4.0" ry="2.5" fill="#98a43a" opacity="0.75"/>
<ellipse cx="143.5" cy="8.1" rx="1.9" ry="1.7" fill="#98a43a" opacity="0.75"/>
<ellipse cx="124.1" cy="31.7" rx="3.2" ry="2.4" fill="#98a43a" opacity="0.75"/>
<ellipse cx="130.2" cy="17.0" rx="2.1" ry="2.0" fill="#98a43a" opacity="0.75"/>
<ellipse cx="169.7" cy="1.3" rx="1.6" ry="2.3" fill="#98a43a" opacity="0.75"/>
<ellipse cx="142.8" cy="8.4" rx="2.8" ry="2.6" fill="#8e963c" opacity="0.75"/>
<ellipse cx="138.2" cy="16.8" rx="3.8" ry="2.1" fill="#8e963c" opacity="0.75"/>
<ellipse cx="131.2" cy="7.3" rx="2.2" ry="1.8" fill="#8e963c" opacity="0.75"/>
<ellipse cx="154.8" cy="4.8" rx="4.2" ry="3.2" fill="#98a43a" opacity="0.75"/>
<ellipse cx="114.8" cy="21.3" rx="3.9" ry="2.2" fill="#98a43a" opacity="0.75"/>
<ellipse cx="118.7" cy="28.6" rx="3.9" ry="2.6" fill="#a6ac40" opacity="0.75"/>
<ellipse cx="147.5" cy="23.6" rx="1.7" ry="1.7" fill="#a6ac40" opacity="0.75"/>
<ellipse cx="139.0" cy="9.0" rx="4.1" ry="3.2" fill="#8e963c" opacity="0.75"/>
<ellipse cx="76.1" cy="11.7" rx="3.9" ry="1.8" fill="#a9a23e" opacity="0.75"/>
<ellipse cx="58.1" cy="18.3" rx="2.8" ry="2.3" fill="#a9a23e" opacity="0.75"/>
<ellipse cx="71.9" cy="25.7" rx="1.8" ry="2.9" fill="#a9a23e" opacity="0.75"/>
<ellipse cx="80.4" cy="11.8" rx="1.7" ry="1.9" fill="#a9a23e" opacity="0.75"/>
<ellipse cx="62.7" cy="29.2" rx="3.8" ry="1.7" fill="#9aa640" opacity="0.75"/>
<ellipse cx="101.9" cy="22.3" rx="3.6" ry="2.7" fill="#9aa640" opacity="0.75"/>
<ellipse cx="66.4" cy="24.8" rx="3.3" ry="1.5" fill="#9aa640" opacity="0.75"/>
<ellipse cx="107.9" cy="22.9" rx="3.5" ry="2.9" fill="#a9a23e" opacity="0.75"/>
<ellipse cx="109.0" cy="25.3" rx="3.1" ry="2.9" fill="#a9a23e" opacity="0.75"/>
<ellipse cx="104.3" cy="22.1" rx="3.9" ry="2.6" fill="#9aa640" opacity="0.75"/>
<ellipse cx="94.0" cy="12.6" rx="1.7" ry="2.5" fill="#a9a23e" opacity="0.75"/>
<ellipse cx="79.1" cy="19.6" rx="1.7" ry="1.4" fill="#9aa640" opacity="0.75"/>
<ellipse cx="96.1" cy="20.3" rx="1.6" ry="2.8" fill="#9aa640" opacity="0.75"/>
<ellipse cx="110.2" cy="28.1" rx="1.8" ry="2.3" fill="#9aa640" opacity="0.75"/>
<ellipse cx="99.3" cy="15.8" rx="1.8" ry="1.9" fill="#9aa640" opacity="0.75"/>
<ellipse cx="100.4" cy="15.4" rx="3.3" ry="2.2" fill="#9aa640" opacity="0.75"/>
<ellipse cx="62.3" cy="28.3" rx="2.3" ry="1.5" fill="#9aa640" opacity="0.75"/>
<ellipse cx="94.0" cy="12.5" rx="2.0" ry="1.9" fill="#9aa640" opacity="0.75"/>
<ellipse cx="96.8" cy="22.8" rx="1.9" ry="2.3" fill="#9aa640" opacity="0.75"/>
<ellipse cx="73.1" cy="23.8" rx="3.4" ry="2.6" fill="#9aa640" opacity="0.75"/>
<ellipse cx="97.7" cy="16.4" rx="2.8" ry="2.8" fill="#9aa640" opacity="0.75"/>
<ellipse cx="69.2" cy="29.6" rx="4.0" ry="1.4" fill="#9aa640" opacity="0.75"/>
<polygon points="116,39 197,40 197,64 150,59" fill="#b0806a"/>
<polygon points="124,45 150,44 170,52 150,56" fill="#c07c58" opacity="0.8"/>
<polygon points="152,45.5 197,46 197,54 160,53" fill="#62c232"/>
<polygon points="108,40.5 122,40.5 146,57 197,63.5 197,66.5 142,60.5" fill="#8a8a92"/>
<polygon points="-4,40 22,40 44,38 16,46 -4,51" fill="#8a8478"/>
<rect x="128.5" y="30" width="1.4" height="25" fill="#3a3a34"/>
<rect x="136" y="30" width="1.4" height="25" fill="#3a3a34"/>
<rect x="141" y="30" width="1.4" height="25" fill="#3a3a34"/>
<rect x="147.5" y="30" width="1.4" height="25" fill="#3a3a34"/>
<rect x="170" y="30" width="1.4" height="25" fill="#3a3a34"/>
<rect x="174.5" y="30" width="1.4" height="25" fill="#3a3a34"/>
<rect x="11" y="30" width="1.4" height="12" fill="#3a3a34"/>
<rect x="18.5" y="30" width="1.4" height="12" fill="#3a3a34"/>
<rect x="170.5" y="33" width="9" height="9.5" fill="#8ab0e0"/>
<rect x="179.2" y="31" width="5.3" height="15" fill="#3c52b8"/>
<rect x="179.6" y="46" width="4.6" height="13" fill="#8090d0"/>
<polygon points="3.0,61.4 9.2,61.4 10.2,59.4 4.5,59.4" fill="#b4b6c0"/>
<polygon points="13.2,61.4 19.4,61.4 20.4,59.4 14.7,59.4" fill="#b4b6c0"/>
<polygon points="23.4,61.4 29.6,61.4 30.6,59.4 24.9,59.4" fill="#b4b6c0"/>
<polygon points="33.6,61.4 39.8,61.4 40.8,59.4 35.1,59.4" fill="#b4b6c0"/>
<polygon points="43.8,61.4 50.0,61.4 51.0,59.4 45.3,59.4" fill="#b4b6c0"/>
<polygon points="54.0,61.4 60.2,61.4 61.2,59.4 55.5,59.4" fill="#b4b6c0"/>
<polygon points="64.2,61.4 70.4,61.4 71.4,59.4 65.7,59.4" fill="#b4b6c0"/>
<polygon points="74.4,61.4 80.6,61.4 81.6,59.4 75.9,59.4" fill="#b4b6c0"/>
<polygon points="84.6,61.4 90.8,61.4 91.8,59.4 86.1,59.4" fill="#b4b6c0"/>
<polygon points="105.0,61.4 111.2,61.4 112.2,59.4 106.5,59.4" fill="#b4b6c0"/>
<polygon points="115.2,61.4 121.4,61.4 122.4,59.4 116.7,59.4" fill="#b4b6c0"/>
<polygon points="125.4,61.4 131.6,61.4 132.6,59.4 126.9,59.4" fill="#b4b6c0"/>
<polygon points="135.6,61.4 141.8,61.4 142.8,59.4 137.1,59.4" fill="#b4b6c0"/>
<polygon points="145.8,61.4 152.0,61.4 153.0,59.4 147.3,59.4" fill="#b4b6c0"/>
<polygon points="133.5,76.6 197,79.2 197,81 133.5,78.6" fill="#b09a40"/>
<polygon points="-3,87 45,93 93,97.8 124,103 -3,104" fill="#73747c"/>
<polyline points="-3,86.6 45,92.6 93,97.4 124,101.5" fill="none" stroke="#a3b4cc" stroke-width="1.1"/>
<rect x="100" y="36.5" width="7" height="6.5" rx="1.5" fill="#b09868"/>
<path d="M57,50 Q57.5,43.5 62,42.4 L90,42.4 Q100,43.5 105.5,49 L105.5,58 L58,58.6 Z" fill="#8a9496"/>
<polygon points="60.5,48 63,43.6 82,43.6 84,48" fill="#4f8a62"/>
<rect x="58" y="53" width="38" height="3.4" fill="#7a8088"/>
<rect x="56.8" y="45.5" width="3.6" height="6" fill="#d83838"/>
<rect x="81" y="45.5" width="3.6" height="6" fill="#d83838"/>
<rect x="66" y="49" width="12" height="3" fill="#c8ccd0"/>
<ellipse cx="62.5" cy="58" rx="3" ry="2.6" fill="#1c1c1c"/>
<ellipse cx="87.5" cy="58" rx="3" ry="2.6" fill="#1c1c1c"/>
<ellipse cx="102.5" cy="56.5" rx="2" ry="3.2" fill="#1c1c1c"/>
<rect x="26.3" y="34.6" width="5" height="5" rx="1" fill="#2f6ee0"/>
<path d="M24.5,40 L32.5,40 L33.5,51.5 L24,51.5 Z" fill="#d23c4c"/>
<polygon points="25,51.5 28.5,51.5 25.5,58.6 21.5,58.6" fill="#c8c0c0"/>
<polygon points="29,51.5 32.5,51.5 35,58.6 31,58.6" fill="#c8c0c0"/>
<polygon points="31.5,47 37,55.5 35,57.5 30.5,50" fill="#e8e8ec"/>
<polygon points="21.5,45 24,45 24,52 21,51" fill="#d8d8dc"/>
<rect x="93.4" y="-3" width="6.8" height="108" fill="#8a8c88"/>
<rect x="93.4" y="-3" width="1.5" height="108" fill="#b0b2b2" opacity="0.6"/>
</g>
<path d="M0,0 L47,0 L47,14 Q56,18 60,26 L60,37 L0,37 Z" fill="#000" filter="url(#nzc)" opacity="0.24"/>
<path d="M56,13 Q66,9 76,11 Q88,8 93,10 L93,36 L56,37 Z" fill="#000" filter="url(#nzc)" opacity="0.24"/>
<path d="M100.5,10 Q108,9 116,12 L116,36 L100.5,36 Z" fill="#000" filter="url(#nzc)" opacity="0.24"/>
<path d="M113,0 L150,0 Q170,1 193,4 L193,37 L114,38 Q110,20 113,0 Z" fill="#000" filter="url(#nzc)" opacity="0.24"/>
<rect x="0" y="38" width="93" height="22" fill="#000" filter="url(#nzc)" opacity="0.08"/>
<rect x="100.5" y="38" width="92.5" height="24" fill="#000" filter="url(#nzc)" opacity="0.08"/>
<rect x="0" y="60" width="193" height="42" fill="#000" filter="url(#nzg)" opacity="0.02"/>
</g>
<rect x="514" y="550" width="27.5" height="24.5" fill="#8b8b91" opacity="0.85"/>
<rect x="492.4" y="549.6" width="48.8" height="24.5" fill="none" stroke="#1a1a1a" stroke-width="1.0"/>
<text x="520.2" y="569.9" font-size="19.5" text-anchor="start"><tspan class="b">X</tspan><tspan font-size="14" dx="-1.5">3</tspan></text>
<rect x="549.5" y="393.7" width="32" height="21.5" fill="none" stroke="#000" stroke-width="1"/>
<polyline points="581.5,393.5 640,394.5 685,396.3 693,397" fill="none" stroke="#000" stroke-width="1"/>
<polyline points="581.5,414.5 640,412 685,410 694,409" fill="none" stroke="#000" stroke-width="1"/>
<rect x="515.5" y="494.4" width="32" height="21.8" fill="none" stroke="#000" stroke-width="1"/>
<polyline points="547.5,494.6 589,495.6 650,499.3" fill="none" stroke="#000" stroke-width="1"/>
<polyline points="547.5,516 589,514.2 650,513" fill="none" stroke="#000" stroke-width="1"/>
<rect x="499.4" y="551.4" width="32" height="21.5" fill="none" stroke="#000" stroke-width="1"/>
<polyline points="531.4,551.6 541.5,552 616,554.8" fill="none" stroke="#000" stroke-width="1"/>
<polyline points="531.4,572.8 541.5,572.5 616,570.2" fill="none" stroke="#000" stroke-width="1"/>
<line x1="341.0" y1="465.8" x2="479.4" y2="431.4" stroke="#000" stroke-width="2.2"/>
<polygon points="491.3,428.4 478.7,437.0 476.1,426.7" fill="#000"/>
<line x1="341.0" y1="515.4" x2="479.3" y2="550.8" stroke="#000" stroke-width="2.2"/>
<polygon points="491.2,553.8 476.0,555.4 478.7,545.1" fill="#000"/>
<line x1="341.0" y1="495.1" x2="355.0" y2="495.4" stroke="#000" stroke-width="2.2"/>
<path d="M290.5,541 C330,590 352,646 404,670.5" fill="none" stroke="#000" stroke-width="2.2"/>
<ellipse cx="407.7" cy="495.3" rx="53.9" ry="35.3" fill="#fff" stroke="#000" stroke-width="1.05"/>
<line x1="461.0" y1="500.5" x2="478.7" y2="501.7" stroke="#000" stroke-width="2.2"/>
<polygon points="491.0,502.6 476.4,506.9 477.1,496.3" fill="#000"/>
<text x="370.4" y="487.6" font-size="22.1" class="i" text-anchor="start">pyramid</text>
<text x="383.4" y="516" font-size="26.5" text-anchor="start"><tspan class="i">g</tspan> (<tspan class="b">I</tspan>)</text>
<ellipse cx="752.4" cy="402.1" rx="62.0" ry="17.9" fill="#fff" stroke="#000" stroke-width="1.05"/>
<text transform="translate(714.3,408.8) scale(1.18,1)" x="0" y="0" font-size="25" class="i">f</text>
<text y="408.8" font-size="20"><tspan x="724.7" font-size="17.3">1</tspan><tspan x="736.8">(</tspan><tspan x="743.2" class="b">X</tspan><tspan x="758.3" font-size="10.3">1</tspan><tspan x="764.4">;</tspan><tspan x="769.7" class="b">θ</tspan><tspan x="780.4" font-size="10.3">1</tspan><tspan x="786.7">)</tspan></text>
<ellipse cx="706.5" cy="507.8" rx="62.2" ry="19.7" fill="#fff" stroke="#000" stroke-width="1.05"/>
<text transform="translate(669.0,513.9) scale(1.18,1)" x="0" y="0" font-size="25" class="i">f</text>
<text y="513.9" font-size="20"><tspan x="678.0" font-size="17.3">2</tspan><tspan x="691.5">(</tspan><tspan x="697.9" class="b">X</tspan><tspan x="712.1" font-size="11.6">2</tspan><tspan x="719.1">;</tspan><tspan x="724.4" class="b">θ</tspan><tspan x="734.2" font-size="11.6">2</tspan><tspan x="741.4">)</tspan></text>
<ellipse cx="673.5" cy="563.0" rx="62.3" ry="17.6" fill="#fff" stroke="#000" stroke-width="1.05"/>
<text transform="translate(635.8,570) scale(1.18,1)" x="0" y="0" font-size="25" class="i">f</text>
<text y="570" font-size="20"><tspan x="644.8" font-size="17.3">3</tspan><tspan x="658.3">(</tspan><tspan x="664.7" class="b">X</tspan><tspan x="678.9" font-size="11.6">3</tspan><tspan x="685.9">;</tspan><tspan x="691.2" class="b">θ</tspan><tspan x="701.0" font-size="11.6">3</tspan><tspan x="708.2">)</tspan></text>
<text x="701" y="463" font-size="26" class="i" text-anchor="start">convnet</text>
<rect x="869.55" y="330.50" width="105" height="56" fill="url(#g5)" stroke="#1e1e1e" stroke-width="1.1"/>
<rect x="866.58" y="333.40" width="105" height="56" fill="url(#g5)" stroke="#1e1e1e" stroke-width="1.1"/>
<rect x="863.61" y="336.30" width="105" height="56" fill="url(#g5)" stroke="#1e1e1e" stroke-width="1.1"/>
<rect x="860.64" y="339.20" width="105" height="56" fill="url(#g5)" stroke="#1e1e1e" stroke-width="1.1"/>
<rect x="857.67" y="342.10" width="105" height="56" fill="url(#g5)" stroke="#1e1e1e" stroke-width="1.1"/>
<rect x="854.70" y="345.00" width="105" height="56" fill="url(#g5)" stroke="#1e1e1e" stroke-width="1.1"/>
<rect x="851.73" y="347.90" width="105" height="56" fill="url(#g5)" stroke="#1e1e1e" stroke-width="1.1"/>
<rect x="848.76" y="350.80" width="105" height="56" fill="url(#g5)" stroke="#1e1e1e" stroke-width="1.1"/>
<rect x="845.79" y="353.70" width="105" height="56" fill="url(#g5)" stroke="#1e1e1e" stroke-width="1.1"/>
<rect x="842.82" y="356.60" width="105" height="56" fill="url(#g5)" stroke="#1e1e1e" stroke-width="1.1"/>
<rect x="839.85" y="359.50" width="105" height="56" fill="url(#g5)" stroke="#1e1e1e" stroke-width="1.1"/>
<rect x="836.88" y="362.40" width="105" height="56" fill="url(#g5)" stroke="#1e1e1e" stroke-width="1.1"/>
<rect x="833.91" y="365.30" width="105" height="56" fill="url(#g5)" stroke="#1e1e1e" stroke-width="1.1"/>
<rect x="830.94" y="368.20" width="105" height="56" fill="url(#g5)" stroke="#1e1e1e" stroke-width="1.1"/>
<rect x="827.97" y="371.10" width="105" height="56" fill="url(#g5)" stroke="#1e1e1e" stroke-width="1.1"/>
<rect x="825" y="374" width="105" height="56" fill="url(#g6)"/>
<rect x="825" y="374" width="105" height="33.6" fill="#000" filter="url(#nzf)" opacity="0.2"/>
<rect x="825" y="407.6" width="105" height="22.4" fill="#000" filter="url(#nzf)" opacity="0.06"/>
<rect x="876.2" y="374" width="1.3" height="56" fill="#a9b7a6" opacity="0.5"/>
<rect x="856.5" y="377.9" width="16.8" height="4.5" fill="#9a8a98" opacity="0.7"/>
<rect x="879.6" y="377.4" width="12.6" height="3.4" fill="#9a8a98" opacity="0.6"/>
<rect x="827.1" y="397.5" width="100.8" height="2.8" fill="#9c90a2" opacity="0.55"/>
<rect x="827.1" y="403.1" width="100.8" height="2.8" fill="#8aa08c" opacity="0.5"/>
<rect x="919.5" y="390.8" width="6.3" height="12.3" fill="#b48ac0" opacity="0.4"/>
<rect x="837.6" y="394.2" width="4.2" height="9.0" fill="#6aa8a0" opacity="0.4"/>
<line x1="825" y1="422.2" x2="877.5" y2="428.3" stroke="#b09cb0" stroke-width="0.7" opacity="0.8"/>
<rect x="825" y="374" width="105" height="56" fill="none" stroke="#1a1a1a" stroke-width="1"/>
<rect x="901" y="411" width="28" height="18" fill="#a39aa5" opacity="0.8"/>
<text x="908.8" y="424.5" font-size="19.5" text-anchor="start"><tspan class="b">F</tspan><tspan font-size="10.5" dx="0.5">1</tspan></text>
<rect x="836.10" y="481.20" width="58.2" height="30.6" fill="url(#g7)" stroke="#161616" stroke-width="1.0"/>
<rect x="833.80" y="483.56" width="58.2" height="30.6" fill="url(#g7)" stroke="#161616" stroke-width="1.0"/>
<rect x="831.50" y="485.92" width="58.2" height="30.6" fill="url(#g7)" stroke="#161616" stroke-width="1.0"/>
<rect x="829.20" y="488.28" width="58.2" height="30.6" fill="url(#g7)" stroke="#161616" stroke-width="1.0"/>
<rect x="826.90" y="490.64" width="58.2" height="30.6" fill="url(#g7)" stroke="#161616" stroke-width="1.0"/>
<rect x="824.6" y="493" width="58.2" height="30.6" fill="url(#g8)"/>
<rect x="824.6" y="493" width="58.2" height="18.4" fill="#000" filter="url(#nzf)" opacity="0.2"/>
<rect x="824.6" y="511.4" width="58.2" height="12.2" fill="#000" filter="url(#nzf)" opacity="0.06"/>
<rect x="853.0" y="493" width="0.8" height="30.6" fill="#a9b7a6" opacity="0.5"/>
<rect x="842.1" y="495.1" width="9.3" height="2.4" fill="#9a8a98" opacity="0.7"/>
<rect x="854.9" y="494.8" width="7.0" height="1.8" fill="#9a8a98" opacity="0.6"/>
<rect x="825.8" y="505.9" width="55.9" height="1.5" fill="#9c90a2" opacity="0.55"/>
<rect x="825.8" y="508.9" width="55.9" height="1.5" fill="#8aa08c" opacity="0.5"/>
<rect x="877.0" y="502.2" width="3.5" height="6.7" fill="#b48ac0" opacity="0.4"/>
<rect x="831.6" y="504.0" width="2.3" height="4.9" fill="#6aa8a0" opacity="0.4"/>
<line x1="824.6" y1="519.3" x2="853.7" y2="522.7" stroke="#b09cb0" stroke-width="0.7" opacity="0.8"/>
<rect x="824.6" y="493" width="58.2" height="30.6" fill="none" stroke="#1a1a1a" stroke-width="1"/>
<rect x="861" y="504" width="21" height="19" fill="#a098a4" opacity="0.7"/>
<text x="862.3" y="519" font-size="19" text-anchor="start"><tspan class="b">F</tspan><tspan font-size="12">2</tspan></text>
<polygon points="824.6,556.2 831.6,549.4 863.5,549.4 863.5,567.4 856.9,573.4 824.6,573.4" fill="#000"/>
<rect x="824.6" y="556.2" width="32.3" height="17.2" fill="url(#g9)"/>
<rect x="824.6" y="556.2" width="32.3" height="17.2" fill="none" stroke="#1a1a1a" stroke-width="1"/>
<text x="840" y="569.4" font-size="15.5" text-anchor="start"><tspan class="b">F</tspan><tspan font-size="9.5" dx="-0.8">3</tspan></text>
<polyline points="814,399.3 872.7,401 814,406.3" fill="none" stroke="#000" stroke-width="1" stroke-linejoin="round"/>
<polygon points="825,399.4 872.7,401 825,403" fill="#000" opacity="0.8"/>
<polyline points="768.2,504.6 849,508.8 768.2,510.6" fill="none" stroke="#000" stroke-width="1" stroke-linejoin="round"/>
<polygon points="824.6,507.4 849,508.8 824.6,509.8" fill="#000" opacity="0.8"/>
<polyline points="735.6,559.6 833.2,563.6 735.6,566.6" fill="none" stroke="#000" stroke-width="1" stroke-linejoin="round"/>
<polygon points="824.6,562.8 833.2,563.6 824.6,564.6" fill="#000"/>
<rect x="1044.34" y="416.26" width="96.2" height="51.2" fill="url(#g10)" stroke="#1e1e1e" stroke-width="1.1"/>
<rect x="1041.52" y="418.98" width="96.2" height="51.2" fill="url(#g10)" stroke="#1e1e1e" stroke-width="1.1"/>
<rect x="1038.70" y="421.70" width="96.2" height="51.2" fill="url(#g10)" stroke="#1e1e1e" stroke-width="1.1"/>
<rect x="1035.88" y="424.42" width="96.2" height="51.2" fill="url(#g10)" stroke="#1e1e1e" stroke-width="1.1"/>
<rect x="1033.06" y="427.14" width="96.2" height="51.2" fill="url(#g10)" stroke="#1e1e1e" stroke-width="1.1"/>
<rect x="1030.24" y="429.86" width="96.2" height="51.2" fill="url(#g10)" stroke="#1e1e1e" stroke-width="1.1"/>
<rect x="1027.42" y="432.58" width="96.2" height="51.2" fill="url(#g10)" stroke="#1e1e1e" stroke-width="1.1"/>
<rect x="1024.6" y="435.3" width="96.2" height="51.2" fill="url(#g11)"/>
<rect x="1024.6" y="435.3" width="96.2" height="30.7" fill="#000" filter="url(#nzf)" opacity="0.2"/>
<rect x="1024.6" y="466.0" width="96.2" height="20.5" fill="#000" filter="url(#nzf)" opacity="0.06"/>
<rect x="1071.5" y="435.3" width="1.2" height="51.2" fill="#a9b7a6" opacity="0.5"/>
<rect x="1053.5" y="438.9" width="15.4" height="4.1" fill="#9a8a98" opacity="0.7"/>
<rect x="1074.6" y="438.4" width="11.5" height="3.1" fill="#9a8a98" opacity="0.6"/>
<rect x="1026.5" y="456.8" width="92.4" height="2.6" fill="#9c90a2" opacity="0.55"/>
<rect x="1026.5" y="461.9" width="92.4" height="2.6" fill="#8aa08c" opacity="0.5"/>
<rect x="1111.2" y="450.7" width="5.8" height="11.3" fill="#b48ac0" opacity="0.4"/>
<rect x="1036.1" y="453.7" width="3.8" height="8.2" fill="#6aa8a0" opacity="0.4"/>
<line x1="1024.6" y1="479.3" x2="1072.7" y2="485.0" stroke="#b09cb0" stroke-width="0.7" opacity="0.8"/>
<rect x="1024.6" y="435.3" width="96.2" height="51.2" fill="none" stroke="#1a1a1a" stroke-width="1"/>
<line x1="930.0" y1="413.0" x2="1026.9" y2="432.7" stroke="#000" stroke-width="2.2"/>
<polygon points="1039.0,435.2 1023.9,437.5 1026.0,427.2" fill="#000"/>
<rect x="1014.33" y="445.28" width="96.8" height="51.2" fill="url(#g12)" stroke="#1e1e1e" stroke-width="1.1"/>
<rect x="1011.54" y="448.04" width="96.8" height="51.2" fill="url(#g12)" stroke="#1e1e1e" stroke-width="1.1"/>
<rect x="1008.75" y="450.80" width="96.8" height="51.2" fill="url(#g12)" stroke="#1e1e1e" stroke-width="1.1"/>
<rect x="1005.96" y="453.56" width="96.8" height="51.2" fill="url(#g12)" stroke="#1e1e1e" stroke-width="1.1"/>
<rect x="1003.17" y="456.32" width="96.8" height="51.2" fill="url(#g12)" stroke="#1e1e1e" stroke-width="1.1"/>
<rect x="1000.38" y="459.08" width="96.8" height="51.2" fill="url(#g12)" stroke="#1e1e1e" stroke-width="1.1"/>
<rect x="997.59" y="461.84" width="96.8" height="51.2" fill="url(#g12)" stroke="#1e1e1e" stroke-width="1.1"/>
<rect x="994.8" y="464.6" width="96.8" height="51.2" fill="url(#g13)"/>
<rect x="994.8" y="464.6" width="96.8" height="30.7" fill="#000" filter="url(#nzf)" opacity="0.2"/>
<rect x="994.8" y="495.3" width="96.8" height="20.5" fill="#000" filter="url(#nzf)" opacity="0.06"/>
<rect x="1042.0" y="464.6" width="1.2" height="51.2" fill="#a9b7a6" opacity="0.5"/>
<rect x="1023.8" y="468.2" width="15.5" height="4.1" fill="#9a8a98" opacity="0.7"/>
<rect x="1045.1" y="467.7" width="11.6" height="3.1" fill="#9a8a98" opacity="0.6"/>
<rect x="996.7" y="486.1" width="92.9" height="2.6" fill="#9c90a2" opacity="0.55"/>
<rect x="996.7" y="491.2" width="92.9" height="2.6" fill="#8aa08c" opacity="0.5"/>
<rect x="1081.9" y="480.0" width="5.8" height="11.3" fill="#b48ac0" opacity="0.4"/>
<rect x="1006.4" y="483.0" width="3.9" height="8.2" fill="#6aa8a0" opacity="0.4"/>
<line x1="994.8" y1="508.6" x2="1043.2" y2="514.3" stroke="#b09cb0" stroke-width="0.7" opacity="0.8"/>
<rect x="994.8" y="464.6" width="96.8" height="51.2" fill="none" stroke="#1a1a1a" stroke-width="1"/>
<line x1="883.5" y1="500.5" x2="1016.8" y2="470.0" stroke="#000" stroke-width="2.2"/>
<polygon points="1028.8,467.3 1016.0,475.7 1013.7,465.3" fill="#000"/>
<rect x="985.78" y="475.70" width="97.0" height="51.2" fill="url(#g14)" stroke="#1e1e1e" stroke-width="1.1"/>
<rect x="983.04" y="478.40" width="97.0" height="51.2" fill="url(#g14)" stroke="#1e1e1e" stroke-width="1.1"/>
<rect x="980.30" y="481.10" width="97.0" height="51.2" fill="url(#g14)" stroke="#1e1e1e" stroke-width="1.1"/>
<rect x="977.56" y="483.80" width="97.0" height="51.2" fill="url(#g14)" stroke="#1e1e1e" stroke-width="1.1"/>
<rect x="974.82" y="486.50" width="97.0" height="51.2" fill="url(#g14)" stroke="#1e1e1e" stroke-width="1.1"/>
<rect x="972.08" y="489.20" width="97.0" height="51.2" fill="url(#g14)" stroke="#1e1e1e" stroke-width="1.1"/>
<rect x="969.34" y="491.90" width="97.0" height="51.2" fill="url(#g14)" stroke="#1e1e1e" stroke-width="1.1"/>
<rect x="966.6" y="494.6" width="97.0" height="51.2" fill="url(#g15)"/>
<rect x="966.6" y="494.6" width="97.0" height="30.7" fill="#000" filter="url(#nzf)" opacity="0.2"/>
<rect x="966.6" y="525.3" width="97.0" height="20.5" fill="#000" filter="url(#nzf)" opacity="0.06"/>
<rect x="1013.9" y="494.6" width="1.2" height="51.2" fill="#a9b7a6" opacity="0.5"/>
<rect x="995.7" y="498.2" width="15.5" height="4.1" fill="#9a8a98" opacity="0.7"/>
<rect x="1017.0" y="497.7" width="11.6" height="3.1" fill="#9a8a98" opacity="0.6"/>
<rect x="968.5" y="516.1" width="93.1" height="2.6" fill="#9c90a2" opacity="0.55"/>
<rect x="968.5" y="521.2" width="93.1" height="2.6" fill="#8aa08c" opacity="0.5"/>
<rect x="1053.9" y="510.0" width="5.8" height="11.3" fill="#b48ac0" opacity="0.4"/>
<rect x="978.2" y="513.0" width="3.9" height="8.2" fill="#6aa8a0" opacity="0.4"/>
<line x1="966.6" y1="538.6" x2="1015.1" y2="544.3" stroke="#b09cb0" stroke-width="0.7" opacity="0.8"/>
<rect x="966.6" y="494.6" width="97.0" height="51.2" fill="none" stroke="#1a1a1a" stroke-width="1"/>
<line x1="863.5" y1="559.0" x2="953.0" y2="535.9" stroke="#000" stroke-width="2.2"/>
<polygon points="964.9,532.8 952.4,541.5 949.7,531.2" fill="#000"/>
<rect x="1046" y="522" width="17.5" height="23.5" fill="#a098a4" opacity="0.7"/>
<text x="1050.5" y="540.2" font-size="20" class="b" text-anchor="start">F</text>
<line x1="1110.2" y1="516.0" x2="1135.0" y2="521.8" stroke="#000" stroke-width="2.2"/>
<line x1="1008.5" y1="639.0" x2="1166.0" y2="573.8" stroke="#000" stroke-width="2.2"/>
<ellipse cx="1213.6" cy="540.2" rx="90.0" ry="40.2" fill="#fff" stroke="#000" stroke-width="1.05"/>
<text x="1177.6" y="532.8" font-size="22.4" class="i" text-anchor="start">labeling</text>
<text x="1159.6" y="560.9" font-size="26.5" text-anchor="start"><tspan class="i">l</tspan> (<tspan class="b">F</tspan>, <tspan class="i">h</tspan> (<tspan class="b">I</tspan>))</text>
<line x1="1303.5" y1="546.0" x2="1341.0" y2="544.5" stroke="#000" stroke-width="2.2"/>
<polygon points="1353.3,544.0 1339.2,549.9 1338.8,539.3" fill="#000"/>
<ellipse cx="484.2" cy="679.3" rx="82.0" ry="40.2" fill="#fff" stroke="#000" stroke-width="1.05"/>
<text x="426" y="671.2" font-size="22.1" class="i" text-anchor="start">segmentation</text>
<text x="460.3" y="700.1" font-size="26.9" text-anchor="start"><tspan class="i">h</tspan> (<tspan class="b">I</tspan>)</text>
<line x1="564.0" y1="688.8" x2="592.1" y2="689.1" stroke="#000" stroke-width="2.2"/>
<polygon points="604.4,689.2 590.0,694.4 590.2,683.8" fill="#000"/>
<text x="654.7" y="766.5" font-size="21.9" class="i" text-anchor="start">superpixels</text>
<text x="823.6" y="697.6" font-size="26.3" class="i" text-anchor="start">or</text>
<line x1="950.3" y1="655.9" x2="892.5" y2="696.1" stroke="#000" stroke-width="1.2"/>
<line x1="950.3" y1="655.9" x2="991.5" y2="674.8" stroke="#000" stroke-width="1.2"/>
<line x1="991.5" y1="674.8" x2="958.3" y2="723.0" stroke="#000" stroke-width="1.2"/>
<line x1="991.5" y1="674.8" x2="1023.3" y2="696.1" stroke="#000" stroke-width="1.2"/>
<line x1="892.5" y1="696.1" x2="871.4" y2="723.0" stroke="#000" stroke-width="1.2"/>
<line x1="892.5" y1="696.1" x2="914.8" y2="723.0" stroke="#000" stroke-width="1.2"/>
<line x1="1023.3" y1="696.1" x2="1001.5" y2="723.0" stroke="#000" stroke-width="1.2"/>
<line x1="1023.3" y1="696.1" x2="1045.2" y2="723.0" stroke="#000" stroke-width="1.2"/>
<ellipse cx="950.3" cy="655.9" rx="17.3" ry="10.4" fill="#fff" stroke="#000" stroke-width="1.05"/>
<text x="942.8" y="660.9" font-size="15.5" text-anchor="start"><tspan class="i">C</tspan><tspan font-size="9.5">9</tspan></text>
<ellipse cx="991.5" cy="674.8" rx="17.3" ry="10.4" fill="#fff" stroke="#000" stroke-width="1.05"/>
<text x="984.0" y="679.8" font-size="15.5" text-anchor="start"><tspan class="i">C</tspan><tspan font-size="9.5">8</tspan></text>
<ellipse cx="892.5" cy="696.1" rx="17.3" ry="10.4" fill="#fff" stroke="#000" stroke-width="1.05"/>
<text x="885.0" y="701.1" font-size="15.5" text-anchor="start"><tspan class="i">C</tspan><tspan font-size="9.5">6</tspan></text>
<ellipse cx="1023.3" cy="696.1" rx="17.3" ry="10.4" fill="#fff" stroke="#000" stroke-width="1.05"/>
<text x="1015.8" y="701.1" font-size="15.5" text-anchor="start"><tspan class="i">C</tspan><tspan font-size="9.5">7</tspan></text>
<ellipse cx="871.4" cy="723.0" rx="17.3" ry="10.4" fill="#fff" stroke="#000" stroke-width="1.05"/>
<text x="863.9" y="728" font-size="15.5" text-anchor="start"><tspan class="i">C</tspan><tspan font-size="9.5">1</tspan></text>
<ellipse cx="914.8" cy="723.0" rx="17.3" ry="10.4" fill="#fff" stroke="#000" stroke-width="1.05"/>
<text x="907.3" y="728" font-size="15.5" text-anchor="start"><tspan class="i">C</tspan><tspan font-size="9.5">2</tspan></text>
<ellipse cx="958.3" cy="723.0" rx="17.3" ry="10.4" fill="#fff" stroke="#000" stroke-width="1.05"/>
<text x="950.8" y="728" font-size="15.5" text-anchor="start"><tspan class="i">C</tspan><tspan font-size="9.5">3</tspan></text>
<ellipse cx="1001.5" cy="723.0" rx="17.3" ry="10.4" fill="#fff" stroke="#000" stroke-width="1.05"/>
<text x="994.0" y="728" font-size="15.5" text-anchor="start"><tspan class="i">C</tspan><tspan font-size="9.5">4</tspan></text>
<ellipse cx="1045.2" cy="723.0" rx="17.3" ry="10.4" fill="#fff" stroke="#000" stroke-width="1.05"/>
<text x="1037.7" y="728" font-size="15.5" text-anchor="start"><tspan class="i">C</tspan><tspan font-size="9.5">5</tspan></text>
<text x="902.6" y="767" font-size="21.6" class="i" text-anchor="start">tree</text>
<text x="952.5" y="766" font-size="26.3" text-anchor="start">T,{<tspan class="i">C</tspan><tspan class="i" font-size="17">k</tspan>}</text>
<g transform="translate(1354.4,481.4) scale(0.9959,0.9990)" clip-path="url(#c16)">
<g filter="url(#bl)">
<rect x="-4" y="-4" width="201" height="110" fill="url(#ogr)"/>
<rect x="-4" y="-4" width="201" height="43" fill="#4ea63b"/>
<path d="M-2,34 L40,34 L60,38 L96,38 L96,44 L60,42 L30,44 L-2,40 Z" fill="#5a9f6a"/>
<path d="M20,12 Q40,16 58,26 Q50,36 30,34 Q18,26 20,12 Z" fill="#3f9431"/>
<path d="M118,8 Q140,2 160,10 Q172,22 160,36 L122,38 Q114,22 118,8 Z" fill="#449a35"/>
<path d="M2,6 Q14,2 24,8 Q20,16 8,18 Q2,14 2,6 Z" fill="#7cc96c"/>
<path d="M58,12 L92,12 L92,22 Q76,26 58,20 Z" fill="#76c552"/>
<path d="M100,14 Q110,12 116,18 L114,32 L100,32 Z" fill="#7fd070"/>
<path d="M134,2 Q150,0 158,6 Q146,10 134,8 Z" fill="#86d57a"/>
<path d="M44,-2 L93,-2 L93,12 Q76,13 58,12 Q50,9 44,4 Z" fill="#80cff0"/>
<path d="M98,-2 L116,-2 L115,8 Q108,13 98,13 Z" fill="#80cff0"/>
<path d="M157,-2 L195,-2 L195,5 Q176,3 157,4 Z" fill="#80cff0"/>
<path d="M26,-2 L44,-2 L45,9 L36,8 L26,3 Z" fill="#d6c88e"/>
<path d="M76,26 L93,25 L93,36 L78,36 Z" fill="#d9d6a0"/>
<path d="M60,31 L78,32 L78,37 L60,37 Z" fill="#c9b090"/>
<path d="M172,18 L195,17 L195,46 L182,44 L174,34 Z" fill="#a99a55"/>
<path d="M116,38 L136,38 L136,41 L116,41 Z" fill="#b0a070" opacity="0.7"/>
<polygon points="-3,87 48,93.5 122,102 -3,104" fill="#8bb9a5"/>
<rect x="2" y="59.5" width="146" height="1.6" fill="#8cbcaa" opacity="0.8"/>
<polygon points="120,44 195,50 195,62 150,58" fill="#86b4a2"/>
<polygon points="100,77 195,80 195,82 100,79" fill="#80b29c"/>
<rect x="92.8" y="-3" width="6" height="42" fill="#bfa560"/>
<rect x="92.8" y="38" width="6.6" height="70" fill="#669681"/>
<path d="M2,38 Q8,35 22,36 L25,42 L20,44 L4,44 Z" fill="#e2466f"/>
<path d="M23,31 L26,30 L27,35 L31,33 L35,34 L35,40 L31,42 L33,50 L36,57 L31,58 L28,52 L25,58 L21,58 L24,48 L22,40 Z" fill="#dc2f63"/>
<path d="M57,48 Q58,40 66,38 L92,36 Q98,38 99,44 L99,55 Q80,58 60,56 Z" fill="#e2466f"/>
<path d="M70,34 L92,33 L93,38 L70,39 Z" fill="#dc3a50"/>
<path d="M99,36 L104,37 L104,43 L99,46 Z" fill="#e2466f"/>
<path d="M137,40 L142,40 L142,50 L146,50 L146,40 L150,40 L150,54 L128,54 L128,51 L137,51 Z" fill="#e2466f"/>
<path d="M168,34 L172,33 L174,31 L182,31 L183,36 L183,57 L179,57 L178,50 L172,50 L171,57 L167,57 Z" fill="#e4507a"/>
<rect x="174" y="34" width="8" height="8" fill="#f08aa8"/>
</g>
<text class="lab" x="2" y="4.4">grass</text>
<text class="lab" x="27.3" y="6.5">building</text>
<text class="lab" x="67" y="6">sky</text>
<text class="lab" x="60.2" y="11">sky</text>
<text class="lab" x="59.9" y="15.3">tree</text>
<text class="lab" x="59.9" y="17.6">tree</text>
<text class="lab" x="75.3" y="17.4">tree</text>
<text class="lab" x="22.5" y="13.3">tree</text>
<text class="lab" x="3.4" y="15.3">tree</text>
<text class="lab" x="2.3" y="22.2">tree</text>
<text class="lab" x="28.7" y="25.3">tree</text>
<text class="lab" x="44.8" y="28">tree</text>
<text class="lab" x="64.6" y="29">tree</text>
<text class="lab" x="4.4" y="32.8">tree</text>
<text class="lab" x="5.1" y="41.5">object</text>
<text class="lab" x="34.9" y="41">road</text>
<text class="lab" x="53.4" y="40.7">road</text>
<text class="lab" x="71.5" y="41.4">object</text>
<text class="lab" x="46.5" y="45.5">road</text>
<text class="lab" x="64.3" y="48.2">object</text>
<text class="lab" x="11.2" y="51.6">road</text>
<text class="lab" x="41.7" y="52">road</text>
<text class="lab" x="73.5" y="53">object</text>
<text class="lab" x="102.4" y="6.4">sky</text>
<text class="lab" x="120.9" y="9.2">tree</text>
<text class="lab" x="177.4" y="5.1">sky</text>
<text class="lab" x="167.4" y="11.2">tree</text>
<text class="lab" x="176.3" y="15.3">tree</text>
<text class="lab" x="149" y="16">tree</text>
<text class="lab" x="134.6" y="21.2">tree</text>
<text class="lab" x="155.5" y="21.2">tree</text>
<text class="lab" x="170.5" y="20.8">tree</text>
<text class="lab" x="180.5" y="20.9">building</text>
<text class="lab" x="159.2" y="28.4">tree</text>
<text class="lab" x="168.5" y="28.6">tree</text>
<text class="lab" x="171.2" y="32.8">building</text>
<text class="lab" x="155.5" y="34.2">tree</text>
<text class="lab" x="102.7" y="30.8">tree</text>
<text class="lab" x="123.6" y="30.8">tree</text>
<text class="lab" x="92.5" y="41">object</text>
<text class="lab" x="100" y="41.3">road</text>
<text class="lab" x="108.2" y="48.9">road</text>
<text class="lab" x="176.7" y="52">building</text>
<text class="lab" x="5.4" y="58.8">road</text>
<text class="lab" x="10.6" y="61.9">road</text>
<text class="lab" x="42.7" y="58.4">road</text>
<text class="lab" x="70.5" y="58.8">road</text>
<text class="lab" x="50.3" y="63.9">road</text>
<text class="lab" x="39.7" y="77.6">road</text>
<text class="lab" x="21.5" y="81.4">road</text>
<text class="lab" x="72.5" y="81.7">road</text>
<text class="lab" x="13.6" y="87.5">road</text>
<text class="lab" x="9.2" y="96.4">road</text>
<text class="lab" x="65.3" y="97.1">road</text>
<text class="lab" x="51.6" y="100.5">road</text>
<text class="lab" x="113" y="57.7">road</text>
<text class="lab" x="129.4" y="57.7">road</text>
<text class="lab" x="149.6" y="58.8">road</text>
<text class="lab" x="172.2" y="61.5">road</text>
<text class="lab" x="123.3" y="63.9">road</text>
<text class="lab" x="165.4" y="65.6">road</text>
<text class="lab" x="149.3" y="70.4">road</text>
<text class="lab" x="117.1" y="73.8">road</text>
<text class="lab" x="163.7" y="79.3">road</text>
<text class="lab" x="156.5" y="82.4">road</text>
<text class="lab" x="114.4" y="87.5">road</text>
<text class="lab" x="94.5" y="89.6">road</text>
<text class="lab" x="159.6" y="90.6">road</text>
<text class="lab" x="137.3" y="97.1">road</text>
<text class="lab" x="112.7" y="99.2">road</text>
<text class="lab" x="176.3" y="98.5">road</text>
<text class="lab" x="116" y="101.9">road</text>
</g>
<rect x="1354.4" y="481.4" width="192.2" height="101.9" fill="none" stroke="#000" stroke-width="1.1"/>
<g transform="translate(604,639) scale(1.0000,1.0000)" clip-path="url(#c17)">
<rect x="0" y="0" width="193" height="102" fill="#6a55c0"/>
<polygon points="0.1,59.3 33.0,60.0 42.6,61.3 48.0,63.7 92.5,63.7 93.2,69.5 93.2,97.6 33.7,91.4 0.1,87.3" fill="#8c0ae1" stroke="#8c0ae1" stroke-width="0.5" stroke-linejoin="round"/>
<polygon points="97.8,55.8 141.9,59.3 157.7,60.0 169.3,65.4 188.5,66.1 192.9,67.5 192.9,101.7 97.8,101.7" fill="#4a3ccb" stroke="#4a3ccb" stroke-width="0.5" stroke-linejoin="round"/>
<polygon points="0.1,87.3 33.7,91.6 33.0,94.2 28.9,98.3 23.4,101.7 0.1,101.7" fill="#288c0a" stroke="#288c0a" stroke-width="0.5" stroke-linejoin="round"/>
<polygon points="33.7,91.4 93.2,97.6 93.2,101.7 23.4,101.7 28.9,98.3 33.0,94.2" fill="#0faaff" stroke="#0faaff" stroke-width="0.5" stroke-linejoin="round"/>
<polygon points="93.1,69.5 95.1,69.5 95.1,96.9 93.1,96.9" fill="#f0a03c" stroke="#f0a03c" stroke-width="0.5" stroke-linejoin="round"/>
<polygon points="94.9,69.5 96.8,69.5 96.8,101.7 93.1,101.7 93.1,96.2 94.9,96.2" fill="#e63228" stroke="#e63228" stroke-width="0.5" stroke-linejoin="round"/>
<polygon points="96.6,64.7 98.1,64.7 98.1,101.7 96.6,101.7" fill="#50e6dc" stroke="#50e6dc" stroke-width="0.5" stroke-linejoin="round"/>
<polygon points="100.2,99.7 111.1,99.3 128.2,101.7 100.2,101.7" fill="#d228f0" stroke="#d228f0" stroke-width="0.5" stroke-linejoin="round"/>
<polygon points="15.2,0.1 22.7,0.1 26.1,4.9 34.3,5.6 45.3,9.7 48.7,11.7 47.3,15.9 43.9,17.9 45.3,22.0 43.2,25.4 39.8,27.5 39.1,31.6 40.5,35.7 45.3,38.4 47.3,41.2 37.1,43.2 31.6,43.9 30.9,40.5 28.2,39.8 29.5,37.1 26.1,35.0 25.4,28.2 22.0,24.8 15.9,22.7 22.0,20.0 25.4,17.9 25.4,14.5 20.3,12.4 20.6,7.6 16.5,4.2" fill="#281e05" stroke="#281e05" stroke-width="0.5" stroke-linejoin="round"/>
<polygon points="39.1,0.1 93.2,0.1 93.2,10.4 84.3,13.1 76.8,12.4 57.6,12.4 56.2,15.9 54.9,16.5 50.8,13.8 48.7,11.7 45.3,9.7 46.0,9.7 45.3,6.3 39.8,3.5" fill="#1420d2" stroke="#1420d2" stroke-width="0.5" stroke-linejoin="round"/>
<polygon points="0.1,0.1 15.2,0.1 16.5,4.2 10.7,4.9 8.3,8.0 4.2,5.6 0.1,3.2" fill="#9fc9c5" stroke="#9fc9c5" stroke-width="0.5" stroke-linejoin="round"/>
<polygon points="0.1,3.2 4.2,5.6 8.3,8.0 10.7,4.9 16.5,4.2 20.6,7.6 20.3,12.4 15.9,14.5 14.5,17.2 8.3,19.3 4.9,23.4 4.9,26.8 0.1,27.5" fill="#8c14d2" stroke="#8c14d2" stroke-width="0.5" stroke-linejoin="round"/>
<polygon points="8.3,19.3 14.5,17.2 15.9,14.5 20.3,12.4 25.4,14.5 25.4,17.9 22.0,20.0 15.9,22.7 13.1,22.0 9.7,21.3" fill="#5fb88c" stroke="#5fb88c" stroke-width="0.5" stroke-linejoin="round"/>
<polygon points="0.1,27.5 4.9,26.8 4.9,23.4 9.7,21.3 15.9,22.7 22.0,24.8 25.4,28.2 23.4,30.2 22.7,35.0 13.1,36.4 7.0,37.8 0.1,37.8" fill="#80c81e" stroke="#80c81e" stroke-width="0.5" stroke-linejoin="round"/>
<polygon points="22.7,0.1 39.1,0.1 39.8,3.5 45.3,6.3 46.0,9.7 34.3,5.6 26.1,4.9" fill="#1ee66e" stroke="#1ee66e" stroke-width="0.5" stroke-linejoin="round"/>
<polygon points="48.7,11.7 50.8,13.8 54.9,16.5 59.7,19.3 61.0,24.8 63.8,31.6 57.6,33.0 54.2,33.7 52.8,30.9 50.8,33.0 46.7,33.3 45.3,38.4 40.5,35.7 39.1,31.6 39.8,27.5 43.2,25.4 45.3,22.0 43.9,17.9 47.3,15.9" fill="#a8a0f0" stroke="#a8a0f0" stroke-width="0.5" stroke-linejoin="round"/>
<polygon points="56.2,15.9 57.6,12.4 70.6,12.4 69.9,17.9 67.9,19.3 60.4,20.6 59.7,19.3" fill="#46b4dc" stroke="#46b4dc" stroke-width="0.5" stroke-linejoin="round"/>
<polygon points="70.6,12.4 83.6,12.4 77.5,14.5 77.5,18.6 69.9,17.9" fill="#b08cb4" stroke="#b08cb4" stroke-width="0.5" stroke-linejoin="round"/>
<polygon points="59.7,19.3 60.4,20.6 67.9,19.3 69.9,17.9 77.5,18.6 77.5,24.1 85.0,24.8 89.8,23.4 85.7,28.2 86.4,34.3 81.6,34.3 72.7,36.4 71.3,33.7 59.0,33.0 63.8,31.6 61.0,24.8" fill="#7896f0" stroke="#7896f0" stroke-width="0.5" stroke-linejoin="round"/>
<polygon points="77.5,14.5 84.3,13.1 93.2,10.4 93.2,23.4 89.8,23.4 85.0,24.8 77.5,24.1" fill="#0f2878" stroke="#0f2878" stroke-width="0.5" stroke-linejoin="round"/>
<polygon points="7.0,37.8 13.1,36.4 22.7,35.0 23.4,30.2 25.4,28.2 26.1,35.0 29.5,37.1 28.2,39.8 24.8,40.5 24.1,45.3 8.3,43.9 7.0,40.5" fill="#7896f0" stroke="#7896f0" stroke-width="0.5" stroke-linejoin="round"/>
<polygon points="0.1,37.8 7.0,37.8 7.0,40.5 8.3,43.9 24.1,45.3 22.0,48.0 22.0,54.9 0.1,54.9" fill="#14e196" stroke="#14e196" stroke-width="0.5" stroke-linejoin="round"/>
<polygon points="0.1,49.0 22.0,49.0 21.3,55.8 19.3,56.2 0.1,56.2" fill="#14e196" stroke="#14e196" stroke-width="0.5" stroke-linejoin="round"/>
<polygon points="0.1,56.2 19.3,56.2 20.0,59.3 0.1,59.3" fill="#1414d2" stroke="#1414d2" stroke-width="0.5" stroke-linejoin="round"/>
<polygon points="24.8,40.5 30.9,40.5 31.6,43.9 30.9,48.0 31.6,54.9 22.0,54.9 22.0,48.0 24.1,45.3" fill="#fad23c" stroke="#fad23c" stroke-width="0.5" stroke-linejoin="round"/>
<polygon points="23.4,49.0 30.2,49.0 33.0,57.9 31.6,59.3 20.0,59.3 21.3,55.8" fill="#fad23c" stroke="#fad23c" stroke-width="0.5" stroke-linejoin="round"/>
<polygon points="46.7,33.3 50.8,33.0 52.8,30.9 54.2,33.7 57.6,33.0 57.6,37.1 72.7,37.1 72.7,36.4 81.6,34.3 86.4,34.3 85.7,28.2 89.8,26.8 93.2,27.5 93.9,34.3 83.6,36.4 88.4,39.8 92.5,43.9 90.5,45.3 83.6,43.2 61.0,43.9 63.1,41.2 48.0,41.2 47.3,41.2 45.3,38.4" fill="#e6780a" stroke="#e6780a" stroke-width="0.5" stroke-linejoin="round"/>
<polygon points="54.2,33.7 58.3,32.3 69.9,33.3 72.7,37.1 57.6,37.1" fill="#145a96" stroke="#145a96" stroke-width="0.5" stroke-linejoin="round"/>
<polygon points="31.6,43.9 38.4,44.6 57.6,44.6 56.9,50.8 87.1,52.8 87.1,54.9 31.6,54.9" fill="#dc2864" stroke="#dc2864" stroke-width="0.5" stroke-linejoin="round"/>
<polygon points="31.6,49.0 57.6,49.0 56.2,52.4 87.1,53.1 87.1,55.2 57.6,55.2 35.7,55.5 33.0,57.9" fill="#dc2864" stroke="#dc2864" stroke-width="0.5" stroke-linejoin="round"/>
<polygon points="37.1,43.2 47.3,41.2 63.1,41.2 61.0,43.9 59.0,48.0 57.6,44.6 38.4,44.6" fill="#f5dc64" stroke="#f5dc64" stroke-width="0.5" stroke-linejoin="round"/>
<polygon points="61.0,43.9 83.6,43.2 90.5,45.3 85.0,47.3 61.0,48.0 59.0,48.0" fill="#b4286e" stroke="#b4286e" stroke-width="0.5" stroke-linejoin="round"/>
<polygon points="59.0,48.0 61.0,48.0 85.0,47.3 80.9,50.8 80.9,52.8 56.9,50.8" fill="#96783c" stroke="#96783c" stroke-width="0.5" stroke-linejoin="round"/>
<polygon points="57.6,49.0 80.9,49.0 80.9,51.7 87.1,53.1 56.2,52.4" fill="#96783c" stroke="#96783c" stroke-width="0.5" stroke-linejoin="round"/>
<polygon points="80.9,50.8 85.0,47.3 93.2,46.0 100.0,48.0 100.0,54.9 87.1,54.9 87.1,52.8" fill="#d2c832" stroke="#d2c832" stroke-width="0.5" stroke-linejoin="round"/>
<polygon points="80.9,49.0 100.0,49.0 100.0,55.2 94.6,55.8 95.3,64.7 93.2,69.5 92.5,57.9 87.7,55.2 87.1,53.1 80.9,51.7" fill="#d2c832" stroke="#d2c832" stroke-width="0.5" stroke-linejoin="round"/>
<polygon points="83.6,36.4 93.9,34.3 100.0,37.1 100.0,48.0 93.2,46.0 92.5,43.9 88.4,39.8" fill="#46d2b4" stroke="#46d2b4" stroke-width="0.5" stroke-linejoin="round"/>
<polygon points="35.7,55.5 57.6,55.2 59.0,59.3 54.2,60.6 42.6,61.3 33.0,60.0 33.0,57.9" fill="#1eb496" stroke="#1eb496" stroke-width="0.5" stroke-linejoin="round"/>
<polygon points="59.0,55.2 87.1,55.2 91.9,59.3 91.2,60.6 61.0,60.6" fill="#8ce61e" stroke="#8ce61e" stroke-width="0.5" stroke-linejoin="round"/>
<polygon points="42.6,61.3 54.2,60.6 55.6,59.3 61.0,60.6 92.5,61.0 92.5,63.7 48.0,63.7" fill="#c88c64" stroke="#c88c64" stroke-width="0.5" stroke-linejoin="round"/>
<polygon points="98.1,0.1 119.0,0.1 118.0,3.5 115.2,5.6 113.9,11.7 111.1,10.7 97.8,10.4" fill="#96f08c" stroke="#96f08c" stroke-width="0.5" stroke-linejoin="round"/>
<polygon points="119.0,0.1 157.7,0.1 139.5,2.2 140.6,4.9 155.6,6.3 152.2,7.6 145.3,9.0 142.6,13.1 143.3,15.9 137.8,20.0 139.2,24.8 135.1,23.4 128.2,22.7 120.0,25.4 118.0,26.8 117.3,23.4 104.3,23.4 104.3,20.6 107.7,18.6 114.5,17.2 113.2,15.2 113.9,12.4 113.9,11.7 115.2,5.6 118.0,3.5" fill="#5ae10f" stroke="#5ae10f" stroke-width="0.5" stroke-linejoin="round"/>
<polygon points="139.5,2.2 157.7,0.1 170.7,0.1 171.4,2.8 169.3,7.0 157.7,7.0 155.6,6.3 140.6,4.9" fill="#e65050" stroke="#e65050" stroke-width="0.5" stroke-linejoin="round"/>
<polygon points="170.7,0.1 192.9,0.1 192.9,6.3 183.0,5.6 174.8,6.3 174.1,3.5 171.4,2.8" fill="#1eb4b4" stroke="#1eb4b4" stroke-width="0.5" stroke-linejoin="round"/>
<polygon points="169.3,7.0 171.4,2.8 174.1,3.5 174.8,6.3 183.0,5.6 192.9,6.3 192.9,15.9 183.0,16.5 176.2,20.0 170.7,17.2 168.6,13.1 169.3,9.7" fill="#1428d2" stroke="#1428d2" stroke-width="0.5" stroke-linejoin="round"/>
<polygon points="145.3,9.0 152.2,7.6 157.7,7.0 169.3,7.0 169.3,9.7 168.6,13.1 170.7,17.2 166.6,16.5 161.1,12.4 155.6,13.1 151.5,9.7" fill="#3c2882" stroke="#3c2882" stroke-width="0.5" stroke-linejoin="round"/>
<polygon points="142.6,13.1 145.3,9.0 151.5,9.7 155.6,13.1 161.1,12.4 161.8,17.9 155.6,16.5 151.5,19.3 146.0,19.3 143.3,15.9" fill="#b428b4" stroke="#b428b4" stroke-width="0.5" stroke-linejoin="round"/>
<polygon points="151.5,19.3 155.6,16.5 161.8,17.9 166.6,16.5 166.6,21.3 152.9,22.0" fill="#500a8c" stroke="#500a8c" stroke-width="0.5" stroke-linejoin="round"/>
<polygon points="137.8,20.0 143.3,15.9 146.0,19.3 144.7,22.0 141.2,24.8 139.2,26.1" fill="#c8f0e6" stroke="#c8f0e6" stroke-width="0.5" stroke-linejoin="round"/>
<polygon points="139.2,26.1 141.2,24.8 144.7,22.0 146.0,19.3 151.5,19.3 152.9,22.0 158.4,24.8 154.9,28.2 159.0,28.9 161.1,31.6 169.3,31.6 169.3,35.0 150.8,35.0 152.9,39.1 148.8,39.8 141.2,37.1 141.9,30.2" fill="#1e50c8" stroke="#1e50c8" stroke-width="0.5" stroke-linejoin="round"/>
<polygon points="166.6,16.5 170.7,17.2 171.4,22.0 174.1,23.4 173.4,28.9 168.6,30.2 169.3,31.6 161.1,31.6 159.0,28.9 154.9,28.2 158.4,24.8 166.6,21.3" fill="#1eb4aa" stroke="#1eb4aa" stroke-width="0.5" stroke-linejoin="round"/>
<polygon points="176.2,20.0 183.0,16.5 192.9,15.9 192.9,22.0 180.3,21.3" fill="#8c1e96" stroke="#8c1e96" stroke-width="0.5" stroke-linejoin="round"/>
<polygon points="174.1,23.4 171.4,22.0 176.2,20.0 180.3,21.3 192.9,22.0 192.9,35.7 185.7,37.1 182.3,31.6 178.9,33.0 173.4,33.0 169.3,31.6 168.6,30.2 173.4,28.9" fill="#78c832" stroke="#78c832" stroke-width="0.5" stroke-linejoin="round"/>
<polygon points="94.0,0.1 97.8,0.1 97.8,10.4 111.1,10.7 113.9,12.4 113.2,15.2 98.8,15.9 101.5,20.0 100.8,31.6 100.2,37.1 96.1,37.8 94.0,36.4" fill="#803c50" stroke="#803c50" stroke-width="0.5" stroke-linejoin="round"/>
<polygon points="98.8,15.9 113.2,15.2 114.5,17.2 107.7,18.6 104.3,20.6 104.3,23.4 101.5,26.8 101.5,20.0" fill="#5a28dc" stroke="#5a28dc" stroke-width="0.5" stroke-linejoin="round"/>
<polygon points="100.8,31.6 101.5,26.8 104.3,23.4 117.3,23.4 118.0,26.8 118.0,34.3 111.1,31.6 109.7,33.7 102.2,33.0" fill="#b428dc" stroke="#b428dc" stroke-width="0.5" stroke-linejoin="round"/>
<polygon points="100.2,37.1 100.8,31.6 102.2,33.0 109.7,33.7 111.1,31.6 118.0,34.3 119.3,39.8 111.1,40.5 105.0,40.5 102.9,43.9 98.8,41.2 96.1,37.8" fill="#1400f0" stroke="#1400f0" stroke-width="0.5" stroke-linejoin="round"/>
<polygon points="94.0,37.1 96.1,37.8 98.8,41.2 102.9,43.9 105.0,40.5 111.1,40.5 119.3,39.8 121.4,41.2 131.0,43.2 131.7,39.8 132.3,49.4 137.8,49.4 138.5,51.5 122.8,51.5 104.3,52.8 94.0,48.7" fill="#46d2b4" stroke="#46d2b4" stroke-width="0.5" stroke-linejoin="round"/>
<polygon points="102.9,49.0 138.5,49.0 137.8,51.7 132.3,52.4 122.8,50.4 104.3,52.1" fill="#46d2b4" stroke="#46d2b4" stroke-width="0.5" stroke-linejoin="round"/>
<polygon points="118.0,26.8 120.0,25.4 128.2,22.7 135.1,23.4 139.2,24.8 139.2,26.1 141.9,30.2 141.2,37.1 140.6,39.8 131.7,39.8 131.0,43.2 121.4,41.2 119.3,39.8 118.0,34.3" fill="#aa1e1e" stroke="#aa1e1e" stroke-width="0.5" stroke-linejoin="round"/>
<polygon points="132.3,39.8 137.8,39.8 137.8,49.4 132.3,49.4" fill="#fff08c" stroke="#fff08c" stroke-width="0.5" stroke-linejoin="round"/>
<polygon points="139.9,39.8 147.4,39.8 147.4,42.6 141.9,42.6 141.9,52.1 146.7,52.1 146.7,54.9 133.7,54.9 133.7,52.1 139.9,52.1" fill="#ff14d2" stroke="#ff14d2" stroke-width="0.5" stroke-linejoin="round"/>
<polygon points="141.9,42.6 147.4,42.6 147.4,52.1 141.9,52.1" fill="#1eaab4" stroke="#1eaab4" stroke-width="0.5" stroke-linejoin="round"/>
<polygon points="150.8,35.0 169.3,35.0 167.9,39.8 152.9,39.1" fill="#6478a0" stroke="#6478a0" stroke-width="0.5" stroke-linejoin="round"/>
<polygon points="150.8,39.8 167.3,39.8 166.6,46.7 155.6,46.7 150.1,49.4 148.8,43.9" fill="#96e61e" stroke="#96e61e" stroke-width="0.5" stroke-linejoin="round"/>
<polygon points="178.9,33.0 182.3,31.6 185.7,37.1 192.9,35.7 192.9,37.1 185.1,38.4 183.7,48.0 183.0,43.2 178.9,42.6" fill="#4646d2" stroke="#4646d2" stroke-width="0.5" stroke-linejoin="round"/>
<polygon points="172.7,33.7 178.9,33.7 178.9,41.9 172.7,41.2" fill="#c8aa32" stroke="#c8aa32" stroke-width="0.5" stroke-linejoin="round"/>
<polygon points="185.1,38.4 192.9,37.1 192.9,54.9 183.7,54.9 183.7,48.0" fill="#826414" stroke="#826414" stroke-width="0.5" stroke-linejoin="round"/>
<polygon points="183.0,49.0 192.9,49.0 192.9,55.8 183.0,55.2" fill="#826414" stroke="#826414" stroke-width="0.5" stroke-linejoin="round"/>
<polygon points="167.9,39.8 169.3,35.0 171.4,33.7 172.7,38.4 172.7,43.9 178.9,46.7 178.9,54.9 167.9,54.9 167.9,48.0 155.6,46.7 166.6,46.7 167.3,39.8" fill="#e60f1e" stroke="#e60f1e" stroke-width="0.5" stroke-linejoin="round"/>
<polygon points="167.9,49.0 178.9,49.0 178.9,54.5 172.1,54.5 172.1,57.9 183.7,58.6 183.7,61.3 179.6,61.3 157.7,60.0 167.9,57.9" fill="#e60f1e" stroke="#e60f1e" stroke-width="0.5" stroke-linejoin="round"/>
<polygon points="178.9,43.2 183.0,43.2 183.7,48.0 183.7,54.9 178.9,54.9" fill="#d2aa14" stroke="#d2aa14" stroke-width="0.5" stroke-linejoin="round"/>
<polygon points="172.1,53.8 182.3,53.8 182.3,58.6 172.1,57.9" fill="#c8aa14" stroke="#c8aa14" stroke-width="0.5" stroke-linejoin="round"/>
<polygon points="178.9,49.0 183.0,49.0 183.0,55.2 178.9,54.5" fill="#c8aa14" stroke="#c8aa14" stroke-width="0.5" stroke-linejoin="round"/>
<polygon points="150.1,49.4 155.6,46.7 167.9,48.0 167.9,50.8 154.2,52.8 150.8,54.9" fill="#32461e" stroke="#32461e" stroke-width="0.5" stroke-linejoin="round"/>
<polygon points="150.1,49.0 167.9,49.0 167.9,52.4 155.6,53.1 150.8,53.1" fill="#32461e" stroke="#32461e" stroke-width="0.5" stroke-linejoin="round"/>
<polygon points="94.0,48.0 98.1,48.7 102.9,50.8 104.3,54.9 94.0,54.9" fill="#d2b432" stroke="#d2b432" stroke-width="0.5" stroke-linejoin="round"/>
<polygon points="94.0,49.0 102.9,49.0 104.3,53.1 102.2,58.6 100.2,59.3 99.5,56.5 94.0,55.8" fill="#d2b432" stroke="#d2b432" stroke-width="0.5" stroke-linejoin="round"/>
<polygon points="104.3,52.8 122.8,51.5 128.2,52.8 133.7,54.9 104.3,54.9" fill="#960a5a" stroke="#960a5a" stroke-width="0.5" stroke-linejoin="round"/>
<polygon points="104.3,52.1 122.8,50.4 132.3,52.4 143.3,57.9 140.6,60.0 124.8,60.3 102.9,58.6" fill="#960a5a" stroke="#960a5a" stroke-width="0.5" stroke-linejoin="round"/>
<polygon points="133.7,53.1 148.8,53.8 156.3,54.5 155.6,55.8 141.9,55.8" fill="#78f01e" stroke="#78f01e" stroke-width="0.5" stroke-linejoin="round"/>
<polygon points="133.7,51.7 146.7,51.7 146.7,53.8 133.7,53.8" fill="#ff14d2" stroke="#ff14d2" stroke-width="0.5" stroke-linejoin="round"/>
<polygon points="141.9,55.8 155.6,55.8 156.3,53.1 167.9,53.1 167.9,57.9 157.7,60.0 144.0,59.3" fill="#46aadc" stroke="#46aadc" stroke-width="0.5" stroke-linejoin="round"/>
<polygon points="183.7,55.2 192.9,55.8 188.5,62.0 184.4,63.4 179.6,61.3 183.7,61.3" fill="#5a28f0" stroke="#5a28f0" stroke-width="0.5" stroke-linejoin="round"/>
<polygon points="155.6,61.3 157.7,60.3 179.6,61.7 184.4,63.4 188.5,62.0 192.9,56.5 192.9,67.5 188.5,66.1 169.3,65.4" fill="#50f0e6" stroke="#50f0e6" stroke-width="0.5" stroke-linejoin="round"/>
<polygon points="94.0,55.8 95.8,55.8 95.8,96.9 94.0,96.9" fill="#f0a03c" stroke="#f0a03c" stroke-width="0.5" stroke-linejoin="round"/>
<polygon points="94.0,69.5 96.7,69.5 96.7,101.7 94.0,101.7" fill="#e63228" stroke="#e63228" stroke-width="0.5" stroke-linejoin="round"/>
<polygon points="95.8,64.7 97.9,64.7 97.9,101.7 96.7,101.7 96.7,69.5 95.8,69.5" fill="#50e6dc" stroke="#50e6dc" stroke-width="0.5" stroke-linejoin="round"/>
</g>
</svg>
<h1 class="t">Semantic Segmentation: Multi-Scale</h1>
<p class="t l" style="left:458.5px;top:257.5px">Resize image to<br>multiple scales</p>
<p class="t l" style="left:817.8px;top:239.5px">Run one CNN<br>per scale</p>
<p class="t l" style="left:1035.4px;top:321px;line-height:39px">Upscale outputs<br>and concatenate</p>
<p class="t l" style="left:1354.9px;top:372.5px">Combine everything<br>for final outputs</p>
<p class="t l" style="left:33.1px;top:659.5px">External “bottom-up”<br>segmentation</p>
<p class="t f">Farabet et al, “Learning Hierarchical Features for Scene Labeling,” TPAMI 2013</p>
</body>
</html>
